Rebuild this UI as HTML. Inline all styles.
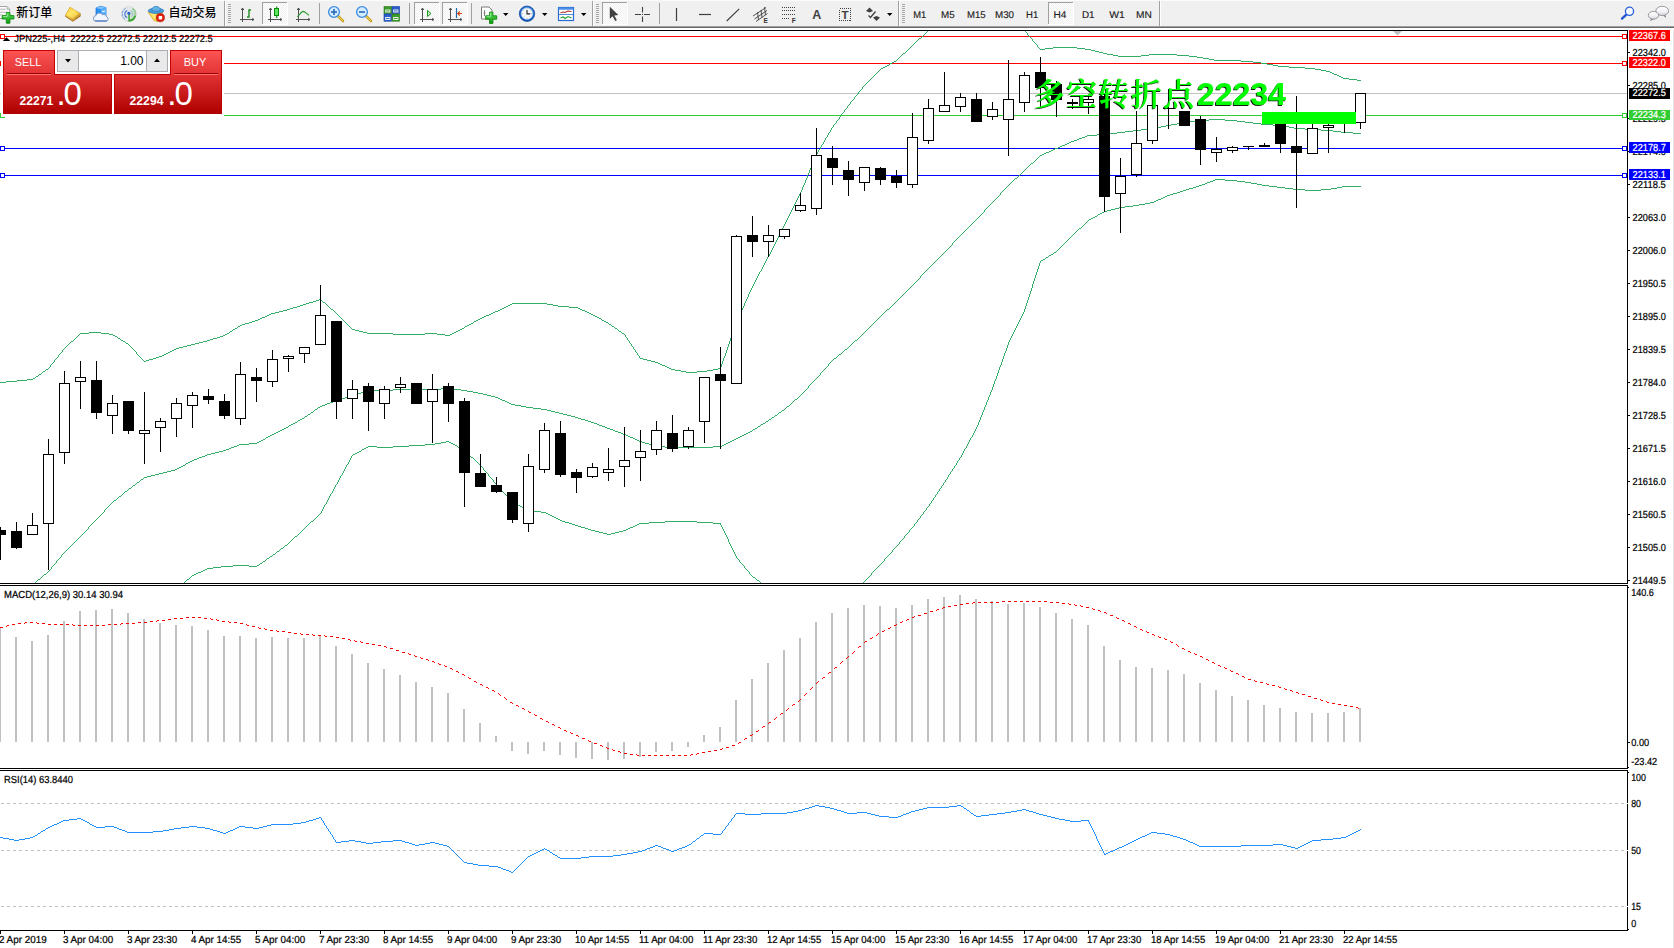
<!DOCTYPE html>
<html lang="zh"><head><meta charset="utf-8"><title>JPN225-,H4</title>
<style>
html,body{margin:0;padding:0;background:#fff;overflow:hidden}
body{width:1674px;height:948px;position:relative;font-family:"Liberation Sans", "Noto Sans CJK SC", sans-serif}
svg{position:absolute;left:0;top:0;display:block}
text{font-family:"Liberation Sans", "Noto Sans CJK SC", sans-serif;font-size:9px;fill:#000}
.ax{text-rendering:geometricPrecision;font-size:10.2px;stroke:#000;stroke-width:0.22px}
.lbl{text-rendering:geometricPrecision;font-size:10.2px;fill:#fff;stroke:#fff;stroke-width:0.22px}
.cn{font-family:"Liberation Sans","Noto Sans CJK SC",sans-serif;font-size:12px;font-weight:500}
.tf{text-rendering:geometricPrecision;font-size:9.8px;fill:#222;stroke:#222;stroke-width:0.15px}
</style></head><body>
<svg width="1674" height="948" viewBox="0 0 1674 948">
<rect x="0" y="0" width="1674" height="948" fill="#fff" />
<g shape-rendering="crispEdges">
<rect x="0" y="30" width="1628" height="1" fill="#000" />
<rect x="1627" y="30" width="1" height="901" fill="#000" />
<rect x="0" y="583" width="1628" height="1" fill="#000" />
<rect x="0" y="584" width="1674" height="1" fill="#fff" />
<rect x="0" y="585" width="1628" height="1" fill="#000" />
<rect x="1628" y="587" width="1" height="1" fill="#000" />
<rect x="0" y="768" width="1628" height="1" fill="#000" />
<rect x="0" y="769" width="1674" height="1" fill="#fff" />
<rect x="0" y="770" width="1628" height="1" fill="#000" />
<rect x="1628" y="772" width="1" height="1" fill="#000" />
<rect x="1628" y="767" width="1" height="1" fill="#000" />
<rect x="1628" y="929" width="1" height="1" fill="#000" />
<rect x="0" y="930" width="1628" height="1" fill="#000" />
<rect x="1673" y="28" width="1" height="948" fill="#e3e3e3" />
<rect x="0" y="36" width="1627" height="1" fill="#ff0000" />
<rect x="0" y="63" width="1627" height="1" fill="#ff0000" />
<rect x="0" y="93" width="1627" height="1" fill="#c0c0c0" />
<rect x="0" y="115" width="1627" height="1" fill="#32cd32" />
<rect x="0" y="148" width="1627" height="1" fill="#0000ff" />
<rect x="0" y="175" width="1627" height="1" fill="#0000ff" />
<rect x="1622.5" y="34.5" width="4" height="4" fill="#fff" stroke="#ff0000" stroke-width="1"/>
<rect x="0.5" y="34.5" width="4" height="4" fill="#fff" stroke="#ff0000" stroke-width="1"/>
<rect x="1622.5" y="61.5" width="4" height="4" fill="#fff" stroke="#ff0000" stroke-width="1"/>
<rect x="0.5" y="61.5" width="4" height="4" fill="#fff" stroke="#ff0000" stroke-width="1"/>
<rect x="1622.5" y="113.5" width="4" height="4" fill="#fff" stroke="#32cd32" stroke-width="1"/>
<rect x="0.5" y="113.5" width="4" height="4" fill="#fff" stroke="#32cd32" stroke-width="1"/>
<rect x="1622.5" y="146.5" width="4" height="4" fill="#fff" stroke="#0000ff" stroke-width="1"/>
<rect x="0.5" y="146.5" width="4" height="4" fill="#fff" stroke="#0000ff" stroke-width="1"/>
<rect x="1622.5" y="173.5" width="4" height="4" fill="#fff" stroke="#0000ff" stroke-width="1"/>
<rect x="0.5" y="173.5" width="4" height="4" fill="#fff" stroke="#0000ff" stroke-width="1"/>
</g>
<path d="M919 38.5h2M1053 47.5h24M1045 48.5h8M1077 48.5h8M1040 49.5h5M1085 49.5h6M1091 50.5h4M1095 51.5h4M1099 52.5h4M903 53.5h2M1103 53.5h4M1107 54.5h6M1149 54.5h28M1113 55.5h5M1141 55.5h8M1177 55.5h12M1118 56.5h23M1189 56.5h8M1197 57.5h6M1203 58.5h6M1209 59.5h5M1214 60.5h27M894 61.5h2M1241 61.5h12M892 62.5h2M1253 62.5h8M890 63.5h2M1261 63.5h6M1267 64.5h6M887 65.5h2M1273 65.5h5M885 66.5h2M1278 66.5h11M883 67.5h2M1289 67.5h16M881 68.5h2M1305 68.5h10M1315 69.5h6M1321 70.5h5M1326 71.5h4M1330 72.5h2M1332 73.5h2M1334 74.5h3M1337 75.5h2M1339 76.5h2M1341 77.5h2M1343 78.5h6M1349 79.5h8M1357 80.5h4M1209 119.5h16M1197 120.5h12M1225 120.5h12M1189 121.5h8M1237 121.5h8M1182 122.5h7M1245 122.5h8M1177 123.5h5M1253 123.5h8M1171 124.5h6M1261 124.5h12M1166 125.5h5M1273 125.5h10M1161 126.5h5M1283 126.5h6M1155 127.5h6M1289 127.5h5M1149 128.5h6M1294 128.5h11M1141 129.5h8M1305 129.5h16M1133 130.5h8M1321 130.5h12M1125 131.5h8M1333 131.5h8M1117 132.5h8M1341 132.5h12M1109 133.5h8M1353 133.5h8M1097 134.5h12M1087 135.5h10M1085 136.5h2M1082 137.5h3M1079 138.5h3M1077 139.5h2M1074 140.5h3M1071 141.5h3M1069 142.5h2M1067 143.5h2M1065 144.5h2M1062 145.5h3M1060 146.5h2M1058 147.5h2M1055 148.5h3M1053 149.5h2M1051 150.5h2M1049 151.5h2M1046 152.5h3M1044 153.5h2M1042 154.5h2M1040 155.5h2M1031 163.5h2M1015 178.5h2M1215 179.5h10M1213 180.5h2M1225 180.5h12M1210 181.5h3M1237 181.5h8M1207 182.5h3M1245 182.5h6M1205 183.5h2M1251 183.5h6M1202 184.5h3M1257 184.5h5M1199 185.5h3M1262 185.5h7M1196 186.5h3M1269 186.5h8M1342 186.5h19M1193 187.5h3M1277 187.5h8M1337 187.5h5M1189 188.5h4M1285 188.5h8M1331 188.5h6M1186 189.5h3M1293 189.5h12M1321 189.5h10M1183 190.5h3M1305 190.5h16M1180 191.5h3M1177 192.5h3M1173 193.5h4M1170 194.5h3M1167 195.5h3M1165 196.5h2M1163 197.5h2M1161 198.5h2M1158 199.5h3M1156 200.5h2M1154 201.5h2M1150 202.5h4M1145 203.5h5M1139 204.5h6M1133 205.5h6M1125 206.5h8M1119 207.5h6M1115 208.5h4M1111 209.5h4M1107 210.5h4M1104 211.5h3M1102 212.5h2M1100 213.5h2M1098 214.5h2M1095 216.5h2M1093 217.5h2M1091 218.5h2M1089 219.5h2M1079 228.5h2M1054 252.5h2M1051 254.5h2M1049 255.5h2M1046 257.5h2M1043 259.5h2M1041 260.5h2M319 299.5h2M316 300.5h3M313 301.5h3M309 302.5h4M323 302.5h2M306 303.5h3M512 303.5h35M303 304.5h3M510 304.5h2M547 304.5h6M300 305.5h3M508 305.5h2M553 305.5h5M297 306.5h3M506 306.5h2M558 306.5h11M293 307.5h4M504 307.5h2M569 307.5h9M290 308.5h3M502 308.5h2M578 308.5h2M287 309.5h3M331 309.5h2M500 309.5h2M580 309.5h2M887 309.5h2M283 310.5h4M498 310.5h2M582 310.5h3M279 311.5h4M495 311.5h3M585 311.5h2M275 312.5h4M493 312.5h2M587 312.5h2M271 313.5h4M491 313.5h2M589 313.5h2M269 314.5h2M489 314.5h2M591 314.5h2M267 315.5h2M486 315.5h3M593 315.5h2M265 316.5h2M484 316.5h2M595 316.5h2M262 317.5h3M482 317.5h2M597 317.5h2M260 318.5h2M480 318.5h2M599 318.5h2M258 319.5h2M478 319.5h2M255 320.5h3M476 320.5h2M602 320.5h2M252 321.5h3M474 321.5h2M604 321.5h2M249 322.5h3M606 322.5h2M245 323.5h4M471 323.5h2M242 324.5h3M469 324.5h2M609 324.5h2M240 325.5h2M467 325.5h2M238 326.5h2M465 326.5h2M612 326.5h2M235 328.5h2M462 328.5h2M615 328.5h2M233 329.5h2M352 329.5h3M460 329.5h2M355 330.5h4M458 330.5h2M230 331.5h2M359 331.5h4M456 331.5h2M619 331.5h2M89 332.5h12M363 332.5h4M454 332.5h2M80 333.5h9M101 333.5h8M227 333.5h2M367 333.5h26M425 333.5h12M452 333.5h2M622 333.5h2M109 334.5h4M225 334.5h2M393 334.5h32M437 334.5h8M450 334.5h2M113 335.5h2M223 335.5h2M445 335.5h5M115 336.5h2M220 336.5h3M217 337.5h3M118 338.5h2M213 338.5h4M210 339.5h3M121 340.5h2M207 340.5h3M855 340.5h2M71 341.5h2M123 341.5h2M203 341.5h4M199 342.5h4M126 343.5h2M195 343.5h4M191 344.5h4M187 345.5h4M183 346.5h4M179 347.5h4M176 348.5h3M174 349.5h2M845 349.5h2M172 350.5h2M170 351.5h2M168 352.5h2M166 353.5h2M164 354.5h2M839 354.5h2M162 355.5h2M159 356.5h3M156 357.5h3M153 358.5h3M640 358.5h3M834 358.5h2M149 359.5h4M643 359.5h4M146 360.5h3M647 360.5h4M144 361.5h2M651 361.5h4M655 362.5h3M658 363.5h2M660 364.5h2M662 365.5h3M665 366.5h2M667 367.5h2M669 368.5h2M718 368.5h3M46 369.5h2M671 369.5h4M713 369.5h5M675 370.5h6M707 370.5h6M43 371.5h2M681 371.5h5M697 371.5h10M686 372.5h11M39 374.5h2M36 376.5h2M33 378.5h2M27 379.5h6M17 380.5h10M6 381.5h11M0 382.5h6M441 388.5h12M393 389.5h48M453 389.5h8M367 390.5h26M461 390.5h6M364 391.5h3M467 391.5h6M361 392.5h3M473 392.5h5M357 393.5h4M478 393.5h5M354 394.5h3M483 394.5h4M351 395.5h3M487 395.5h4M348 396.5h3M491 396.5h4M345 397.5h3M495 397.5h3M341 398.5h4M498 398.5h2M338 399.5h3M500 399.5h2M795 399.5h2M335 400.5h3M502 400.5h3M333 401.5h2M505 401.5h2M330 402.5h3M507 402.5h2M327 403.5h3M509 403.5h2M325 404.5h2M511 404.5h4M322 405.5h3M515 405.5h6M320 406.5h2M521 406.5h5M787 406.5h2M318 407.5h2M526 407.5h7M533 408.5h8M315 409.5h2M541 409.5h6M547 410.5h4M782 410.5h2M551 411.5h4M311 412.5h2M555 412.5h4M779 412.5h2M559 413.5h4M308 414.5h2M563 414.5h4M567 415.5h4M775 415.5h2M305 416.5h2M571 416.5h4M575 417.5h3M772 417.5h2M302 418.5h2M578 418.5h3M300 419.5h2M581 419.5h4M769 419.5h2M298 420.5h2M585 420.5h3M588 421.5h3M766 421.5h2M295 422.5h2M591 422.5h3M293 423.5h2M594 423.5h3M763 423.5h2M291 424.5h2M597 424.5h2M761 424.5h2M289 425.5h2M599 425.5h3M602 426.5h3M758 426.5h2M286 427.5h2M605 427.5h2M284 428.5h2M607 428.5h3M755 428.5h2M282 429.5h2M610 429.5h3M753 429.5h2M280 430.5h2M613 430.5h2M278 431.5h2M615 431.5h3M750 431.5h2M276 432.5h2M618 432.5h3M748 432.5h2M274 433.5h2M621 433.5h2M746 433.5h2M272 434.5h2M623 434.5h3M744 434.5h2M270 435.5h2M626 435.5h2M742 435.5h2M268 436.5h2M628 436.5h2M740 436.5h2M266 437.5h2M630 437.5h3M738 437.5h2M633 438.5h2M736 438.5h2M263 439.5h2M635 439.5h2M734 439.5h2M261 440.5h2M637 440.5h2M732 440.5h2M259 441.5h2M446 441.5h3M639 441.5h3M730 441.5h2M257 442.5h2M441 442.5h5M449 442.5h2M642 442.5h3M728 442.5h2M249 443.5h8M435 443.5h6M451 443.5h2M645 443.5h4M726 443.5h2M239 444.5h10M425 444.5h10M453 444.5h2M649 444.5h3M724 444.5h2M237 445.5h2M409 445.5h16M455 445.5h2M652 445.5h3M722 445.5h2M234 446.5h3M368 446.5h9M393 446.5h16M655 446.5h10M713 446.5h9M231 447.5h3M366 447.5h2M377 447.5h16M458 447.5h2M665 447.5h48M229 448.5h2M364 448.5h2M460 448.5h2M226 449.5h3M362 449.5h2M462 449.5h2M223 450.5h3M219 451.5h4M359 451.5h2M215 452.5h4M357 452.5h2M211 453.5h4M355 453.5h2M207 454.5h4M353 454.5h2M205 455.5h2M202 456.5h3M199 457.5h3M471 457.5h2M197 458.5h2M194 459.5h3M192 460.5h2M190 461.5h2M188 462.5h2M186 463.5h2M183 465.5h2M181 466.5h2M179 467.5h2M177 468.5h2M175 469.5h2M171 470.5h4M167 471.5h4M163 472.5h4M159 473.5h4M155 474.5h4M151 475.5h4M147 476.5h4M144 477.5h3M141 479.5h2M137 482.5h2M133 485.5h2M129 488.5h2M125 491.5h2M119 496.5h2M114 500.5h2M512 502.5h2M514 503.5h2M516 504.5h2M518 505.5h2M520 506.5h2M522 507.5h2M524 508.5h2M526 509.5h2M528 510.5h5M533 511.5h8M541 512.5h5M546 513.5h2M548 514.5h2M550 515.5h2M552 516.5h2M554 517.5h2M556 518.5h2M558 519.5h2M560 520.5h2M311 521.5h2M562 521.5h3M665 521.5h32M565 522.5h4M649 522.5h16M697 522.5h16M569 523.5h3M639 523.5h10M713 523.5h8M572 524.5h3M637 524.5h2M575 525.5h3M635 525.5h2M578 526.5h3M633 526.5h2M581 527.5h4M630 527.5h3M585 528.5h3M628 528.5h2M588 529.5h3M626 529.5h2M591 530.5h4M623 530.5h3M595 531.5h4M619 531.5h4M599 532.5h4M615 532.5h4M603 533.5h4M611 533.5h4M607 534.5h4M295 536.5h2M285 545.5h2M281 548.5h2M277 551.5h2M273 554.5h2M270 556.5h2M267 558.5h2M263 561.5h2M260 563.5h2M233 565.5h16M257 565.5h2M221 566.5h12M249 566.5h8M213 567.5h8M207 568.5h6M205 569.5h2M203 570.5h2M201 571.5h2M198 572.5h3M196 573.5h2M44 574.5h2M194 574.5h2M192 575.5h2M753 577.5h2M38 579.5h2M187 579.5h2M757 580.5h2M35.5 377v1M35.5 582v1M36.5 581v1M37.5 580v1M38.5 375v1M40.5 578v1M41.5 373v1M41.5 577v1M42.5 372v1M42.5 576v1M43.5 575v1M45.5 370v1M46.5 573v1M47.5 572v1M48.5 368v1M48.5 571v1M49.5 367v1M49.5 570v1M50.5 365v2M50.5 569v1M51.5 364v1M51.5 567v2M52.5 363v1M52.5 566v1M53.5 362v1M53.5 565v1M54.5 360v2M54.5 564v1M55.5 359v1M55.5 563v1M56.5 358v1M56.5 561v2M57.5 357v1M57.5 560v1M58.5 355v2M58.5 559v1M59.5 354v1M59.5 558v1M60.5 353v1M60.5 557v1M61.5 352v1M61.5 555v2M62.5 350v2M62.5 554v1M63.5 349v1M63.5 553v1M64.5 348v1M64.5 552v1M65.5 347v1M65.5 551v1M66.5 346v1M66.5 550v1M67.5 345v1M67.5 549v1M68.5 344v1M68.5 548v1M69.5 343v1M69.5 547v1M70.5 342v1M70.5 546v1M71.5 545v1M72.5 544v1M73.5 340v1M73.5 543v1M74.5 339v1M74.5 542v1M75.5 338v1M75.5 541v1M76.5 337v1M76.5 540v1M77.5 336v1M77.5 539v1M78.5 335v1M78.5 538v1M79.5 334v1M79.5 537v1M80.5 536v1M81.5 535v1M82.5 534v1M83.5 533v1M84.5 532v1M85.5 531v1M86.5 530v1M87.5 529v1M88.5 527v2M89.5 526v1M90.5 525v1M91.5 524v1M92.5 523v1M93.5 522v1M94.5 521v1M95.5 520v1M96.5 519v1M97.5 518v1M98.5 517v1M99.5 516v1M100.5 515v1M101.5 514v1M102.5 513v1M103.5 512v1M104.5 510v2M105.5 509v1M106.5 508v1M107.5 507v1M108.5 506v1M109.5 505v1M110.5 504v1M111.5 503v1M112.5 502v1M113.5 501v1M116.5 499v1M117.5 337v1M117.5 498v1M118.5 497v1M120.5 339v1M121.5 495v1M122.5 494v1M123.5 493v1M124.5 492v1M125.5 342v1M127.5 490v1M128.5 344v1M128.5 489v1M129.5 345v1M130.5 346v1M131.5 347v1M131.5 487v1M132.5 348v1M132.5 486v1M133.5 349v1M134.5 350v1M135.5 351v1M135.5 484v1M136.5 352v2M136.5 483v1M137.5 354v1M138.5 355v1M139.5 356v1M139.5 481v1M140.5 357v1M140.5 480v1M141.5 358v1M142.5 359v1M143.5 360v1M143.5 478v1M184.5 582v1M185.5 464v1M185.5 581v1M186.5 580v1M189.5 578v1M190.5 577v1M191.5 576v1M229.5 332v1M232.5 330v1M237.5 327v1M259.5 564v1M262.5 562v1M265.5 438v1M265.5 560v1M266.5 559v1M269.5 557v1M272.5 555v1M275.5 553v1M276.5 552v1M279.5 550v1M280.5 549v1M283.5 547v1M284.5 546v1M287.5 544v1M288.5 426v1M288.5 543v1M289.5 542v1M290.5 541v1M291.5 540v1M292.5 539v1M293.5 538v1M294.5 537v1M297.5 421v1M297.5 535v1M298.5 534v1M299.5 533v1M300.5 532v1M301.5 531v1M302.5 530v1M303.5 529v1M304.5 417v1M304.5 528v1M305.5 527v1M306.5 526v1M307.5 415v1M307.5 525v1M308.5 524v1M309.5 523v1M310.5 413v1M310.5 522v1M313.5 411v1M313.5 520v1M314.5 410v1M314.5 519v1M315.5 518v1M316.5 517v1M317.5 408v1M317.5 516v1M318.5 515v1M319.5 514v1M320.5 513v1M321.5 300v1M321.5 511v2M322.5 301v1M322.5 509v2M323.5 507v2M324.5 505v2M325.5 303v1M325.5 504v1M326.5 304v1M326.5 502v2M327.5 305v1M327.5 500v2M328.5 306v1M328.5 498v2M329.5 307v1M329.5 496v2M330.5 308v1M330.5 494v2M331.5 493v1M332.5 491v2M333.5 310v1M333.5 489v2M334.5 311v1M334.5 487v2M335.5 312v1M335.5 485v2M336.5 313v1M336.5 484v1M337.5 314v1M337.5 482v2M338.5 315v1M338.5 480v2M339.5 316v1M339.5 478v2M340.5 317v1M340.5 476v2M341.5 318v1M341.5 475v1M342.5 319v1M342.5 473v2M343.5 320v1M343.5 471v2M344.5 321v1M344.5 469v2M345.5 322v1M345.5 467v2M346.5 323v1M346.5 465v2M347.5 324v1M347.5 464v1M348.5 325v1M348.5 462v2M349.5 326v1M349.5 460v2M350.5 327v1M350.5 458v2M351.5 328v1M351.5 456v2M352.5 455v1M361.5 450v1M457.5 446v1M464.5 327v1M464.5 450v1M465.5 451v1M466.5 452v1M467.5 453v1M468.5 454v1M469.5 455v1M470.5 456v1M473.5 322v1M473.5 458v1M474.5 459v1M475.5 460v1M476.5 461v1M477.5 462v1M478.5 463v1M479.5 464v1M480.5 465v1M481.5 466v1M482.5 467v1M483.5 468v2M484.5 470v1M485.5 471v1M486.5 472v1M487.5 473v1M488.5 474v2M489.5 476v1M490.5 477v1M491.5 478v1M492.5 479v1M493.5 480v2M494.5 482v1M495.5 483v1M496.5 484v1M497.5 485v1M498.5 486v1M499.5 487v1M500.5 488v2M501.5 490v1M502.5 491v1M503.5 492v1M504.5 493v1M505.5 494v1M506.5 495v1M507.5 496v1M508.5 497v2M509.5 499v1M510.5 500v1M511.5 501v1M601.5 319v1M608.5 323v1M611.5 325v1M614.5 327v1M617.5 329v1M618.5 330v1M621.5 332v1M624.5 334v1M625.5 335v2M626.5 337v1M627.5 338v2M628.5 340v1M629.5 341v2M630.5 343v1M631.5 344v2M632.5 346v1M633.5 347v2M634.5 349v1M635.5 350v2M636.5 352v1M637.5 353v2M638.5 355v1M639.5 356v2M720.5 367v1M720.5 524v1M721.5 364v3M721.5 525v2M722.5 361v3M722.5 527v2M723.5 358v3M723.5 529v2M724.5 356v2M724.5 531v2M725.5 353v3M725.5 533v2M726.5 350v3M726.5 535v2M727.5 347v3M727.5 537v2M728.5 344v3M728.5 539v3M729.5 341v3M729.5 542v2M730.5 338v3M730.5 544v2M731.5 335v3M731.5 546v2M732.5 333v2M732.5 548v2M733.5 330v3M733.5 550v2M734.5 327v3M734.5 552v2M735.5 324v3M735.5 554v2M736.5 321v3M736.5 556v2M737.5 319v2M737.5 558v1M738.5 317v2M738.5 559v1M739.5 315v2M739.5 560v2M740.5 312v3M740.5 562v1M741.5 310v2M741.5 563v1M742.5 308v2M742.5 564v1M743.5 306v2M743.5 565v1M744.5 303v3M744.5 566v2M745.5 301v2M745.5 568v1M746.5 299v2M746.5 569v1M747.5 297v2M747.5 570v1M748.5 294v3M748.5 571v1M749.5 292v2M749.5 572v2M750.5 290v2M750.5 574v1M751.5 288v2M751.5 575v1M752.5 286v2M752.5 430v1M752.5 576v1M753.5 284v2M754.5 282v2M755.5 280v2M755.5 578v1M756.5 278v2M756.5 579v1M757.5 276v2M757.5 427v1M758.5 274v2M759.5 272v2M759.5 581v1M760.5 271v1M760.5 425v1M760.5 582v1M761.5 269v2M762.5 267v2M763.5 265v2M764.5 263v2M765.5 261v2M765.5 422v1M766.5 259v2M767.5 257v2M768.5 256v1M768.5 420v1M769.5 254v2M770.5 252v2M771.5 250v2M771.5 418v1M772.5 248v2M773.5 246v2M774.5 244v2M774.5 416v1M775.5 242v2M776.5 240v2M777.5 238v2M777.5 414v1M778.5 236v2M778.5 413v1M779.5 234v2M780.5 232v2M781.5 230v2M781.5 411v1M782.5 228v2M783.5 226v2M784.5 224v2M784.5 409v1M785.5 222v2M785.5 408v1M786.5 220v2M786.5 407v1M787.5 218v2M788.5 216v2M789.5 214v2M789.5 405v1M790.5 212v2M790.5 404v1M791.5 210v2M791.5 403v1M792.5 208v2M792.5 402v1M793.5 206v2M793.5 401v1M794.5 204v2M794.5 400v1M795.5 202v2M796.5 200v2M797.5 198v2M797.5 398v1M798.5 196v2M798.5 397v1M799.5 194v2M799.5 396v1M800.5 192v2M800.5 395v1M801.5 190v2M801.5 394v1M802.5 187v3M802.5 393v1M803.5 185v2M803.5 392v1M804.5 183v2M804.5 391v1M805.5 180v3M805.5 390v1M806.5 178v2M806.5 389v1M807.5 175v3M807.5 388v1M808.5 173v2M808.5 386v2M809.5 170v3M809.5 385v1M810.5 168v2M810.5 384v1M811.5 165v3M811.5 383v1M812.5 163v2M812.5 382v1M813.5 161v2M813.5 381v1M814.5 158v3M814.5 380v1M815.5 156v2M815.5 379v1M816.5 154v2M816.5 378v1M817.5 152v2M817.5 377v1M818.5 150v2M818.5 376v1M819.5 149v1M819.5 375v1M820.5 147v2M820.5 373v2M821.5 145v2M821.5 372v1M822.5 144v1M822.5 371v1M823.5 142v2M823.5 370v1M824.5 140v2M824.5 369v1M825.5 138v2M825.5 368v1M826.5 137v1M826.5 367v1M827.5 135v2M827.5 366v1M828.5 133v2M828.5 364v2M829.5 132v1M829.5 363v1M830.5 130v2M830.5 362v1M831.5 128v2M831.5 361v1M832.5 127v1M832.5 360v1M833.5 125v2M833.5 359v1M834.5 124v1M835.5 123v1M836.5 121v2M836.5 357v1M837.5 120v1M837.5 356v1M838.5 119v1M838.5 355v1M839.5 117v2M840.5 116v1M841.5 114v2M841.5 353v1M842.5 113v1M842.5 352v1M843.5 112v1M843.5 351v1M844.5 110v2M844.5 350v1M845.5 109v1M846.5 108v1M847.5 106v2M847.5 348v1M848.5 105v1M848.5 347v1M849.5 104v1M849.5 346v1M850.5 102v2M850.5 345v1M851.5 101v1M851.5 344v1M852.5 100v1M852.5 343v1M853.5 99v1M853.5 342v1M854.5 97v2M854.5 341v1M855.5 96v1M856.5 95v1M857.5 94v1M857.5 339v1M858.5 92v2M858.5 338v1M859.5 91v1M859.5 337v1M860.5 90v1M860.5 336v1M861.5 89v1M861.5 335v1M862.5 87v2M862.5 334v1M863.5 86v1M863.5 333v1M863.5 582v1M864.5 85v1M864.5 332v1M864.5 581v1M865.5 84v1M865.5 331v1M865.5 580v1M866.5 83v1M866.5 330v1M866.5 579v1M867.5 82v1M867.5 329v1M867.5 578v1M868.5 81v1M868.5 328v1M868.5 577v1M869.5 80v1M869.5 327v1M869.5 576v1M870.5 79v1M870.5 326v1M870.5 575v1M871.5 78v1M871.5 325v1M871.5 573v2M872.5 77v1M872.5 324v1M872.5 572v1M873.5 76v1M873.5 323v1M873.5 571v1M874.5 75v1M874.5 322v1M874.5 570v1M875.5 74v1M875.5 321v1M875.5 569v1M876.5 73v1M876.5 320v1M876.5 568v1M877.5 72v1M877.5 319v1M877.5 567v1M878.5 71v1M878.5 318v1M878.5 566v1M879.5 70v1M879.5 317v1M879.5 565v1M880.5 69v1M880.5 316v1M880.5 564v1M881.5 315v1M881.5 563v1M882.5 314v1M882.5 562v1M883.5 313v1M883.5 561v1M884.5 312v1M884.5 559v2M885.5 311v1M885.5 558v1M886.5 310v1M886.5 557v1M887.5 556v1M888.5 555v1M889.5 64v1M889.5 308v1M889.5 554v1M890.5 307v1M890.5 553v1M891.5 306v1M891.5 552v1M892.5 305v1M892.5 550v2M893.5 304v1M893.5 549v1M894.5 303v1M894.5 548v1M895.5 302v1M895.5 547v1M896.5 60v1M896.5 301v1M896.5 546v1M897.5 59v1M897.5 300v1M897.5 545v1M898.5 58v1M898.5 299v1M898.5 544v1M899.5 57v1M899.5 298v1M899.5 542v2M900.5 56v1M900.5 297v1M900.5 541v1M901.5 55v1M901.5 296v1M901.5 540v1M902.5 54v1M902.5 295v1M902.5 539v1M903.5 294v1M903.5 538v1M904.5 293v1M904.5 536v2M905.5 52v1M905.5 292v1M905.5 535v1M906.5 51v1M906.5 291v1M906.5 534v1M907.5 50v1M907.5 290v1M907.5 533v1M908.5 49v1M908.5 289v1M908.5 532v1M909.5 48v1M909.5 288v1M909.5 530v2M910.5 47v1M910.5 287v1M910.5 529v1M911.5 46v1M911.5 286v1M911.5 528v1M912.5 45v1M912.5 285v1M912.5 527v1M913.5 44v1M913.5 284v1M913.5 526v1M914.5 43v1M914.5 283v1M914.5 524v2M915.5 42v1M915.5 282v1M915.5 523v1M916.5 41v1M916.5 281v1M916.5 522v1M917.5 40v1M917.5 280v1M917.5 520v2M918.5 39v1M918.5 279v1M918.5 519v1M919.5 278v1M919.5 518v1M920.5 276v2M920.5 516v2M921.5 37v1M921.5 275v1M921.5 515v1M922.5 36v1M922.5 274v1M922.5 514v1M923.5 35v1M923.5 273v1M923.5 512v2M924.5 34v1M924.5 272v1M924.5 511v1M925.5 33v1M925.5 271v1M925.5 510v1M926.5 32v1M926.5 270v1M926.5 508v2M927.5 31v1M927.5 269v1M927.5 507v1M928.5 268v1M928.5 506v1M929.5 267v1M929.5 504v2M930.5 266v1M930.5 503v1M931.5 265v1M931.5 501v2M932.5 264v1M932.5 500v1M933.5 263v1M933.5 498v2M934.5 262v1M934.5 497v1M935.5 261v1M935.5 495v2M936.5 260v1M936.5 494v1M937.5 259v1M937.5 492v2M938.5 258v1M938.5 491v1M939.5 257v1M939.5 489v2M940.5 256v1M940.5 488v1M941.5 255v1M941.5 486v2M942.5 254v1M942.5 485v1M943.5 253v1M943.5 483v2M944.5 252v1M944.5 482v1M945.5 251v1M945.5 480v2M946.5 250v1M946.5 479v1M947.5 249v1M947.5 477v2M948.5 248v1M948.5 475v2M949.5 247v1M949.5 474v1M950.5 246v1M950.5 472v2M951.5 245v1M951.5 471v1M952.5 243v2M952.5 469v2M953.5 242v1M953.5 468v1M954.5 241v1M954.5 466v2M955.5 240v1M955.5 465v1M956.5 239v1M956.5 463v2M957.5 238v1M957.5 461v2M958.5 237v1M958.5 460v1M959.5 236v1M959.5 458v2M960.5 235v1M960.5 457v1M961.5 234v1M961.5 455v2M962.5 233v1M962.5 453v2M963.5 232v1M963.5 451v2M964.5 231v1M964.5 449v2M965.5 230v1M965.5 448v1M966.5 229v1M966.5 446v2M967.5 228v1M967.5 444v2M968.5 227v1M968.5 442v2M969.5 226v1M969.5 440v2M970.5 225v1M970.5 438v2M971.5 224v1M971.5 437v1M972.5 223v1M972.5 435v2M973.5 222v1M973.5 433v2M974.5 221v1M974.5 431v2M975.5 220v1M975.5 429v2M976.5 219v1M976.5 427v2M977.5 218v1M977.5 425v2M978.5 217v1M978.5 422v3M979.5 216v1M979.5 420v2M980.5 215v1M980.5 417v3M981.5 214v1M981.5 415v2M982.5 213v1M982.5 412v3M983.5 212v1M983.5 410v2M984.5 210v2M984.5 407v3M985.5 209v1M985.5 405v2M986.5 208v1M986.5 402v3M987.5 207v1M987.5 400v2M988.5 206v1M988.5 397v3M989.5 205v1M989.5 395v2M990.5 204v1M990.5 392v3M991.5 203v1M991.5 390v2M992.5 202v1M992.5 387v3M993.5 201v1M993.5 384v3M994.5 200v1M994.5 381v3M995.5 199v1M995.5 379v2M996.5 198v1M996.5 376v3M997.5 197v1M997.5 373v3M998.5 196v1M998.5 370v3M999.5 195v1M999.5 367v3M1000.5 193v2M1000.5 365v2M1001.5 192v1M1001.5 362v3M1002.5 191v1M1002.5 359v3M1003.5 190v1M1003.5 356v3M1004.5 189v1M1004.5 353v3M1005.5 188v1M1005.5 351v2M1006.5 187v1M1006.5 348v3M1007.5 186v1M1007.5 345v3M1008.5 185v1M1008.5 342v3M1009.5 184v1M1009.5 340v2M1010.5 183v1M1010.5 338v2M1011.5 182v1M1011.5 336v2M1012.5 181v1M1012.5 334v2M1013.5 180v1M1013.5 332v2M1014.5 179v1M1014.5 330v2M1015.5 328v2M1016.5 326v2M1017.5 177v1M1017.5 324v2M1018.5 176v1M1018.5 322v2M1019.5 175v1M1019.5 320v2M1020.5 174v1M1020.5 318v2M1021.5 173v1M1021.5 316v2M1022.5 172v1M1022.5 314v2M1023.5 171v1M1023.5 312v2M1024.5 170v1M1024.5 309v3M1025.5 31v1M1025.5 169v1M1025.5 306v3M1026.5 32v1M1026.5 168v1M1026.5 303v3M1027.5 33v2M1027.5 167v1M1027.5 300v3M1028.5 35v1M1028.5 166v1M1028.5 297v3M1029.5 36v1M1029.5 165v1M1029.5 294v3M1030.5 37v1M1030.5 164v1M1030.5 291v3M1031.5 38v1M1031.5 288v3M1032.5 39v2M1032.5 284v4M1033.5 41v1M1033.5 162v1M1033.5 281v3M1034.5 42v1M1034.5 161v1M1034.5 278v3M1035.5 43v1M1035.5 160v1M1035.5 275v3M1036.5 44v1M1036.5 159v1M1036.5 272v3M1037.5 45v2M1037.5 158v1M1037.5 269v3M1038.5 47v1M1038.5 157v1M1038.5 266v3M1039.5 48v1M1039.5 156v1M1039.5 263v3M1040.5 261v2M1045.5 258v1M1048.5 256v1M1053.5 253v1M1056.5 251v1M1057.5 250v1M1058.5 249v1M1059.5 248v1M1060.5 247v1M1061.5 246v1M1062.5 245v1M1063.5 244v1M1064.5 243v1M1065.5 242v1M1066.5 241v1M1067.5 240v1M1068.5 239v1M1069.5 238v1M1070.5 237v1M1071.5 236v1M1072.5 235v1M1073.5 234v1M1074.5 233v1M1075.5 232v1M1076.5 231v1M1077.5 230v1M1078.5 229v1M1081.5 227v1M1082.5 226v1M1083.5 225v1M1084.5 224v1M1085.5 223v1M1086.5 222v1M1087.5 221v1M1088.5 220v1M1097.5 215v1" fill="none" stroke="#32ae66" stroke-width="1" shape-rendering="crispEdges"/>
<g shape-rendering="crispEdges">
<rect x="0" y="527" width="1" height="33" fill="#000" />
<rect x="-5" y="530" width="11" height="5" fill="#000" />
<rect x="16" y="522" width="1" height="27" fill="#000" />
<rect x="11" y="531" width="11" height="17" fill="#000" />
<rect x="32" y="513" width="1" height="22" fill="#000" />
<rect x="27" y="525" width="11" height="10" fill="#000" />
<rect x="28" y="526" width="9" height="8" fill="#fff" />
<rect x="48" y="439" width="1" height="131" fill="#000" />
<rect x="43" y="454" width="11" height="70" fill="#000" />
<rect x="44" y="455" width="9" height="68" fill="#fff" />
<rect x="64" y="371" width="1" height="93" fill="#000" />
<rect x="59" y="383" width="11" height="70" fill="#000" />
<rect x="60" y="384" width="9" height="68" fill="#fff" />
<rect x="80" y="361" width="1" height="48" fill="#000" />
<rect x="75" y="377" width="11" height="5" fill="#000" />
<rect x="76" y="378" width="9" height="3" fill="#fff" />
<rect x="96" y="361" width="1" height="58" fill="#000" />
<rect x="91" y="380" width="11" height="33" fill="#000" />
<rect x="112" y="395" width="1" height="39" fill="#000" />
<rect x="107" y="403" width="11" height="13" fill="#000" />
<rect x="108" y="404" width="9" height="11" fill="#fff" />
<rect x="128" y="401" width="1" height="33" fill="#000" />
<rect x="123" y="401" width="11" height="30" fill="#000" />
<rect x="144" y="392" width="1" height="72" fill="#000" />
<rect x="139" y="430" width="11" height="4" fill="#000" />
<rect x="140" y="431" width="9" height="2" fill="#fff" />
<rect x="160" y="418" width="1" height="34" fill="#000" />
<rect x="155" y="421" width="11" height="7" fill="#000" />
<rect x="156" y="422" width="9" height="5" fill="#fff" />
<rect x="176" y="398" width="1" height="39" fill="#000" />
<rect x="171" y="403" width="11" height="16" fill="#000" />
<rect x="172" y="404" width="9" height="14" fill="#fff" />
<rect x="192" y="392" width="1" height="36" fill="#000" />
<rect x="187" y="395" width="11" height="11" fill="#000" />
<rect x="188" y="396" width="9" height="9" fill="#fff" />
<rect x="208" y="389" width="1" height="15" fill="#000" />
<rect x="203" y="396" width="11" height="4" fill="#000" />
<rect x="224" y="394" width="1" height="25" fill="#000" />
<rect x="219" y="401" width="11" height="15" fill="#000" />
<rect x="240" y="362" width="1" height="63" fill="#000" />
<rect x="235" y="374" width="11" height="45" fill="#000" />
<rect x="236" y="375" width="9" height="43" fill="#fff" />
<rect x="256" y="368" width="1" height="34" fill="#000" />
<rect x="251" y="377" width="11" height="4" fill="#000" />
<rect x="272" y="350" width="1" height="37" fill="#000" />
<rect x="267" y="359" width="11" height="23" fill="#000" />
<rect x="268" y="360" width="9" height="21" fill="#fff" />
<rect x="288" y="355" width="1" height="17" fill="#000" />
<rect x="283" y="356" width="11" height="3" fill="#000" />
<rect x="284" y="357" width="9" height="1" fill="#fff" />
<rect x="304" y="347" width="1" height="16" fill="#000" />
<rect x="299" y="347" width="11" height="7" fill="#000" />
<rect x="300" y="348" width="9" height="5" fill="#fff" />
<rect x="320" y="285" width="1" height="60" fill="#000" />
<rect x="315" y="315" width="11" height="30" fill="#000" />
<rect x="316" y="316" width="9" height="28" fill="#fff" />
<rect x="336" y="321" width="1" height="98" fill="#000" />
<rect x="331" y="321" width="11" height="81" fill="#000" />
<rect x="352" y="380" width="1" height="39" fill="#000" />
<rect x="347" y="389" width="11" height="10" fill="#000" />
<rect x="348" y="390" width="9" height="8" fill="#fff" />
<rect x="368" y="383" width="1" height="48" fill="#000" />
<rect x="363" y="386" width="11" height="16" fill="#000" />
<rect x="384" y="386" width="1" height="33" fill="#000" />
<rect x="379" y="389" width="11" height="15" fill="#000" />
<rect x="380" y="390" width="9" height="13" fill="#fff" />
<rect x="400" y="377" width="1" height="16" fill="#000" />
<rect x="395" y="384" width="11" height="4" fill="#000" />
<rect x="396" y="385" width="9" height="2" fill="#fff" />
<rect x="416" y="383" width="1" height="21" fill="#000" />
<rect x="411" y="383" width="11" height="21" fill="#000" />
<rect x="432" y="374" width="1" height="69" fill="#000" />
<rect x="427" y="389" width="11" height="13" fill="#000" />
<rect x="428" y="390" width="9" height="11" fill="#fff" />
<rect x="448" y="383" width="1" height="39" fill="#000" />
<rect x="443" y="386" width="11" height="18" fill="#000" />
<rect x="464" y="398" width="1" height="109" fill="#000" />
<rect x="459" y="401" width="11" height="72" fill="#000" />
<rect x="480" y="454" width="1" height="33" fill="#000" />
<rect x="475" y="473" width="11" height="14" fill="#000" />
<rect x="496" y="477" width="1" height="16" fill="#000" />
<rect x="491" y="485" width="11" height="7" fill="#000" />
<rect x="512" y="492" width="1" height="31" fill="#000" />
<rect x="507" y="492" width="11" height="28" fill="#000" />
<rect x="528" y="454" width="1" height="78" fill="#000" />
<rect x="523" y="466" width="11" height="58" fill="#000" />
<rect x="524" y="467" width="9" height="56" fill="#fff" />
<rect x="544" y="423" width="1" height="50" fill="#000" />
<rect x="539" y="430" width="11" height="40" fill="#000" />
<rect x="540" y="431" width="9" height="38" fill="#fff" />
<rect x="560" y="421" width="1" height="56" fill="#000" />
<rect x="555" y="433" width="11" height="42" fill="#000" />
<rect x="576" y="469" width="1" height="24" fill="#000" />
<rect x="571" y="472" width="11" height="6" fill="#000" />
<rect x="592" y="463" width="1" height="15" fill="#000" />
<rect x="587" y="467" width="11" height="10" fill="#000" />
<rect x="588" y="468" width="9" height="8" fill="#fff" />
<rect x="608" y="448" width="1" height="33" fill="#000" />
<rect x="603" y="469" width="11" height="4" fill="#000" />
<rect x="604" y="470" width="9" height="2" fill="#fff" />
<rect x="624" y="427" width="1" height="60" fill="#000" />
<rect x="619" y="460" width="11" height="7" fill="#000" />
<rect x="620" y="461" width="9" height="5" fill="#fff" />
<rect x="640" y="430" width="1" height="51" fill="#000" />
<rect x="635" y="451" width="11" height="7" fill="#000" />
<rect x="636" y="452" width="9" height="5" fill="#fff" />
<rect x="656" y="421" width="1" height="34" fill="#000" />
<rect x="651" y="430" width="11" height="20" fill="#000" />
<rect x="652" y="431" width="9" height="18" fill="#fff" />
<rect x="672" y="415" width="1" height="37" fill="#000" />
<rect x="667" y="433" width="11" height="16" fill="#000" />
<rect x="688" y="427" width="1" height="22" fill="#000" />
<rect x="683" y="430" width="11" height="17" fill="#000" />
<rect x="684" y="431" width="9" height="15" fill="#fff" />
<rect x="704" y="377" width="1" height="66" fill="#000" />
<rect x="699" y="377" width="11" height="45" fill="#000" />
<rect x="700" y="378" width="9" height="43" fill="#fff" />
<rect x="720" y="347" width="1" height="102" fill="#000" />
<rect x="715" y="374" width="11" height="7" fill="#000" />
<rect x="736" y="235" width="1" height="149" fill="#000" />
<rect x="731" y="236" width="11" height="148" fill="#000" />
<rect x="732" y="237" width="9" height="146" fill="#fff" />
<rect x="752" y="216" width="1" height="41" fill="#000" />
<rect x="747" y="235" width="11" height="7" fill="#000" />
<rect x="768" y="225" width="1" height="32" fill="#000" />
<rect x="763" y="235" width="11" height="7" fill="#000" />
<rect x="764" y="236" width="9" height="5" fill="#fff" />
<rect x="784" y="229" width="1" height="10" fill="#000" />
<rect x="779" y="229" width="11" height="8" fill="#000" />
<rect x="780" y="230" width="9" height="6" fill="#fff" />
<rect x="800" y="193" width="1" height="19" fill="#000" />
<rect x="795" y="205" width="11" height="6" fill="#000" />
<rect x="796" y="206" width="9" height="4" fill="#fff" />
<rect x="816" y="128" width="1" height="87" fill="#000" />
<rect x="811" y="155" width="11" height="54" fill="#000" />
<rect x="812" y="156" width="9" height="52" fill="#fff" />
<rect x="832" y="146" width="1" height="39" fill="#000" />
<rect x="827" y="158" width="11" height="10" fill="#000" />
<rect x="848" y="161" width="1" height="35" fill="#000" />
<rect x="843" y="170" width="11" height="10" fill="#000" />
<rect x="864" y="167" width="1" height="24" fill="#000" />
<rect x="859" y="167" width="11" height="16" fill="#000" />
<rect x="860" y="168" width="9" height="14" fill="#fff" />
<rect x="880" y="167" width="1" height="18" fill="#000" />
<rect x="875" y="168" width="11" height="12" fill="#000" />
<rect x="896" y="170" width="1" height="18" fill="#000" />
<rect x="891" y="176" width="11" height="7" fill="#000" />
<rect x="912" y="113" width="1" height="75" fill="#000" />
<rect x="907" y="137" width="11" height="48" fill="#000" />
<rect x="908" y="138" width="9" height="46" fill="#fff" />
<rect x="928" y="99" width="1" height="45" fill="#000" />
<rect x="923" y="108" width="11" height="33" fill="#000" />
<rect x="924" y="109" width="9" height="31" fill="#fff" />
<rect x="944" y="72" width="1" height="40" fill="#000" />
<rect x="939" y="105" width="11" height="7" fill="#000" />
<rect x="940" y="106" width="9" height="5" fill="#fff" />
<rect x="960" y="93" width="1" height="19" fill="#000" />
<rect x="955" y="97" width="11" height="10" fill="#000" />
<rect x="956" y="98" width="9" height="8" fill="#fff" />
<rect x="976" y="93" width="1" height="29" fill="#000" />
<rect x="971" y="99" width="11" height="23" fill="#000" />
<rect x="992" y="102" width="1" height="18" fill="#000" />
<rect x="987" y="109" width="11" height="8" fill="#000" />
<rect x="988" y="110" width="9" height="6" fill="#fff" />
<rect x="1008" y="60" width="1" height="96" fill="#000" />
<rect x="1003" y="99" width="11" height="21" fill="#000" />
<rect x="1004" y="100" width="9" height="19" fill="#fff" />
<rect x="1024" y="72" width="1" height="40" fill="#000" />
<rect x="1019" y="75" width="11" height="28" fill="#000" />
<rect x="1020" y="76" width="9" height="26" fill="#fff" />
<rect x="1040" y="57" width="1" height="50" fill="#000" />
<rect x="1035" y="72" width="11" height="16" fill="#000" />
<rect x="1056" y="81" width="1" height="36" fill="#000" />
<rect x="1051" y="84" width="11" height="16" fill="#000" />
<rect x="1072" y="99" width="1" height="10" fill="#000" />
<rect x="1067" y="102" width="11" height="2" fill="#000" />
<rect x="1088" y="95" width="1" height="19" fill="#000" />
<rect x="1083" y="99" width="11" height="4" fill="#000" />
<rect x="1084" y="100" width="9" height="2" fill="#fff" />
<rect x="1104" y="93" width="1" height="119" fill="#000" />
<rect x="1099" y="96" width="11" height="101" fill="#000" />
<rect x="1120" y="158" width="1" height="75" fill="#000" />
<rect x="1115" y="176" width="11" height="18" fill="#000" />
<rect x="1116" y="177" width="9" height="16" fill="#fff" />
<rect x="1136" y="111" width="1" height="66" fill="#000" />
<rect x="1131" y="143" width="11" height="32" fill="#000" />
<rect x="1132" y="144" width="9" height="30" fill="#fff" />
<rect x="1152" y="100" width="1" height="44" fill="#000" />
<rect x="1147" y="105" width="11" height="36" fill="#000" />
<rect x="1148" y="106" width="9" height="34" fill="#fff" />
<rect x="1168" y="100" width="1" height="29" fill="#000" />
<rect x="1163" y="108" width="11" height="1" fill="#000" />
<rect x="1184" y="111" width="1" height="15" fill="#000" />
<rect x="1179" y="111" width="11" height="15" fill="#000" />
<rect x="1200" y="116" width="1" height="49" fill="#000" />
<rect x="1195" y="119" width="11" height="31" fill="#000" />
<rect x="1216" y="137" width="1" height="25" fill="#000" />
<rect x="1211" y="149" width="11" height="4" fill="#000" />
<rect x="1212" y="150" width="9" height="2" fill="#fff" />
<rect x="1232" y="146" width="1" height="7" fill="#000" />
<rect x="1227" y="147" width="11" height="4" fill="#000" />
<rect x="1228" y="148" width="9" height="2" fill="#fff" />
<rect x="1248" y="146" width="1" height="4" fill="#000" />
<rect x="1243" y="146" width="11" height="1" fill="#000" />
<rect x="1264" y="143" width="1" height="4" fill="#000" />
<rect x="1259" y="145" width="11" height="2" fill="#000" />
<rect x="1280" y="118" width="1" height="35" fill="#000" />
<rect x="1275" y="123" width="11" height="21" fill="#000" />
<rect x="1296" y="96" width="1" height="112" fill="#000" />
<rect x="1291" y="146" width="11" height="7" fill="#000" />
<rect x="1312" y="122" width="1" height="32" fill="#000" />
<rect x="1307" y="128" width="11" height="26" fill="#000" />
<rect x="1308" y="129" width="9" height="24" fill="#fff" />
<rect x="1328" y="122" width="1" height="31" fill="#000" />
<rect x="1323" y="125" width="11" height="3" fill="#000" />
<rect x="1324" y="126" width="9" height="1" fill="#fff" />
<rect x="1344" y="118" width="1" height="15" fill="#000" />
<rect x="1339" y="119" width="11" height="1" fill="#000" />
<rect x="1360" y="93" width="1" height="36" fill="#000" />
<rect x="1355" y="93" width="11" height="30" fill="#000" />
<rect x="1356" y="94" width="9" height="28" fill="#fff" />
</g>
<rect x="1262" y="112" width="94" height="12" fill="#00ff00" shape-rendering="crispEdges"/>
<g shape-rendering="crispEdges">
<rect x="-1" y="628" width="2" height="114" fill="#c0c0c0" />
<rect x="15" y="637" width="2" height="105" fill="#c0c0c0" />
<rect x="31" y="641" width="2" height="101" fill="#c0c0c0" />
<rect x="47" y="635" width="2" height="107" fill="#c0c0c0" />
<rect x="63" y="621" width="2" height="121" fill="#c0c0c0" />
<rect x="79" y="611" width="2" height="131" fill="#c0c0c0" />
<rect x="95" y="610" width="2" height="132" fill="#c0c0c0" />
<rect x="111" y="609" width="2" height="133" fill="#c0c0c0" />
<rect x="127" y="613" width="2" height="129" fill="#c0c0c0" />
<rect x="143" y="619" width="2" height="123" fill="#c0c0c0" />
<rect x="159" y="623" width="2" height="119" fill="#c0c0c0" />
<rect x="175" y="625" width="2" height="117" fill="#c0c0c0" />
<rect x="191" y="626" width="2" height="116" fill="#c0c0c0" />
<rect x="207" y="630" width="2" height="112" fill="#c0c0c0" />
<rect x="223" y="636" width="2" height="106" fill="#c0c0c0" />
<rect x="239" y="636" width="2" height="106" fill="#c0c0c0" />
<rect x="255" y="638" width="2" height="104" fill="#c0c0c0" />
<rect x="271" y="637" width="2" height="105" fill="#c0c0c0" />
<rect x="287" y="638" width="2" height="104" fill="#c0c0c0" />
<rect x="303" y="638" width="2" height="104" fill="#c0c0c0" />
<rect x="319" y="636" width="2" height="106" fill="#c0c0c0" />
<rect x="335" y="646" width="2" height="96" fill="#c0c0c0" />
<rect x="351" y="654" width="2" height="88" fill="#c0c0c0" />
<rect x="367" y="663" width="2" height="79" fill="#c0c0c0" />
<rect x="383" y="669" width="2" height="73" fill="#c0c0c0" />
<rect x="399" y="675" width="2" height="67" fill="#c0c0c0" />
<rect x="415" y="682" width="2" height="60" fill="#c0c0c0" />
<rect x="431" y="687" width="2" height="55" fill="#c0c0c0" />
<rect x="447" y="693" width="2" height="49" fill="#c0c0c0" />
<rect x="463" y="709" width="2" height="33" fill="#c0c0c0" />
<rect x="479" y="723" width="2" height="19" fill="#c0c0c0" />
<rect x="495" y="736" width="2" height="6" fill="#c0c0c0" />
<rect x="511" y="742" width="2" height="9" fill="#c0c0c0" />
<rect x="527" y="742" width="2" height="12" fill="#c0c0c0" />
<rect x="543" y="742" width="2" height="9" fill="#c0c0c0" />
<rect x="559" y="742" width="2" height="13" fill="#c0c0c0" />
<rect x="575" y="742" width="2" height="16" fill="#c0c0c0" />
<rect x="591" y="742" width="2" height="17" fill="#c0c0c0" />
<rect x="607" y="742" width="2" height="18" fill="#c0c0c0" />
<rect x="623" y="742" width="2" height="17" fill="#c0c0c0" />
<rect x="639" y="742" width="2" height="15" fill="#c0c0c0" />
<rect x="655" y="742" width="2" height="10" fill="#c0c0c0" />
<rect x="671" y="742" width="2" height="9" fill="#c0c0c0" />
<rect x="687" y="742" width="2" height="5" fill="#c0c0c0" />
<rect x="703" y="735" width="2" height="7" fill="#c0c0c0" />
<rect x="719" y="727" width="2" height="15" fill="#c0c0c0" />
<rect x="735" y="700" width="2" height="42" fill="#c0c0c0" />
<rect x="751" y="679" width="2" height="63" fill="#c0c0c0" />
<rect x="767" y="663" width="2" height="79" fill="#c0c0c0" />
<rect x="783" y="650" width="2" height="92" fill="#c0c0c0" />
<rect x="799" y="638" width="2" height="104" fill="#c0c0c0" />
<rect x="815" y="622" width="2" height="120" fill="#c0c0c0" />
<rect x="831" y="613" width="2" height="129" fill="#c0c0c0" />
<rect x="847" y="608" width="2" height="134" fill="#c0c0c0" />
<rect x="863" y="605" width="2" height="137" fill="#c0c0c0" />
<rect x="879" y="606" width="2" height="136" fill="#c0c0c0" />
<rect x="895" y="608" width="2" height="134" fill="#c0c0c0" />
<rect x="911" y="605" width="2" height="137" fill="#c0c0c0" />
<rect x="927" y="599" width="2" height="143" fill="#c0c0c0" />
<rect x="943" y="597" width="2" height="145" fill="#c0c0c0" />
<rect x="959" y="595" width="2" height="147" fill="#c0c0c0" />
<rect x="975" y="599" width="2" height="143" fill="#c0c0c0" />
<rect x="991" y="601" width="2" height="141" fill="#c0c0c0" />
<rect x="1007" y="604" width="2" height="138" fill="#c0c0c0" />
<rect x="1023" y="603" width="2" height="139" fill="#c0c0c0" />
<rect x="1039" y="607" width="2" height="135" fill="#c0c0c0" />
<rect x="1055" y="613" width="2" height="129" fill="#c0c0c0" />
<rect x="1071" y="619" width="2" height="123" fill="#c0c0c0" />
<rect x="1087" y="625" width="2" height="117" fill="#c0c0c0" />
<rect x="1103" y="646" width="2" height="96" fill="#c0c0c0" />
<rect x="1119" y="660" width="2" height="82" fill="#c0c0c0" />
<rect x="1135" y="667" width="2" height="75" fill="#c0c0c0" />
<rect x="1151" y="668" width="2" height="74" fill="#c0c0c0" />
<rect x="1167" y="670" width="2" height="72" fill="#c0c0c0" />
<rect x="1183" y="674" width="2" height="68" fill="#c0c0c0" />
<rect x="1199" y="683" width="2" height="59" fill="#c0c0c0" />
<rect x="1215" y="690" width="2" height="52" fill="#c0c0c0" />
<rect x="1231" y="696" width="2" height="46" fill="#c0c0c0" />
<rect x="1247" y="700" width="2" height="42" fill="#c0c0c0" />
<rect x="1263" y="705" width="2" height="37" fill="#c0c0c0" />
<rect x="1279" y="708" width="2" height="34" fill="#c0c0c0" />
<rect x="1295" y="712" width="2" height="30" fill="#c0c0c0" />
<rect x="1311" y="713" width="2" height="29" fill="#c0c0c0" />
<rect x="1327" y="713" width="2" height="29" fill="#c0c0c0" />
<rect x="1343" y="712" width="2" height="30" fill="#c0c0c0" />
<rect x="1359" y="708" width="2" height="34" fill="#c0c0c0" />
</g>
<path d="M1002 601.5h3M1008 601.5h3M1014 601.5h3M1020 601.5h3M1026 601.5h3M1032 601.5h3M1038 601.5h3M1044 601.5h3M973 602.5h2M978 602.5h3M984 602.5h3M990 602.5h3M996 602.5h3M1050 602.5h3M1056 602.5h3M966 603.5h3M1062 603.5h3M960 604.5h3M1069 604.5h2M954 605.5h3M1075 605.5h2M948 606.5h3M1081 606.5h2M943 607.5h2M1086 607.5h3M937 609.5h2M1093 609.5h2M1098 610.5h2M930 611.5h3M1104 612.5h2M924 613.5h3M918 615.5h3M1110 615.5h3M186 617.5h3M192 617.5h3M198 617.5h3M912 617.5h2M174 618.5h3M180 618.5h3M204 618.5h3M1117 618.5h2M168 619.5h3M211 619.5h2M907 619.5h2M157 620.5h2M162 620.5h3M217 620.5h2M1122 620.5h2M150 621.5h3M222 621.5h3M25 622.5h2M30 622.5h3M138 622.5h3M144 622.5h3M229 622.5h2M234 622.5h3M900 622.5h2M18 623.5h3M37 623.5h2M42 623.5h3M121 623.5h2M126 623.5h3M132 623.5h3M240 623.5h3M1128 623.5h2M12 624.5h3M48 624.5h3M54 624.5h3M60 624.5h3M66 624.5h3M108 624.5h3M114 624.5h3M7 625.5h2M73 625.5h2M78 625.5h3M84 625.5h3M90 625.5h3M96 625.5h3M102 625.5h3M247 625.5h2M894 625.5h2M252 626.5h3M1134 626.5h2M0 627.5h3M259 628.5h2M888 628.5h2M265 629.5h2M1140 629.5h2M270 630.5h3M277 631.5h2M282 631.5h3M882 631.5h2M288 632.5h3M1147 632.5h2M294 633.5h3M301 634.5h2M306 634.5h3M1152 634.5h2M313 635.5h2M318 635.5h3M325 636.5h2M330 636.5h3M336 637.5h3M1159 637.5h2M342 638.5h3M870 638.5h2M348 639.5h2M1165 639.5h2M355 641.5h2M865 641.5h2M361 642.5h2M1171 642.5h2M366 643.5h3M372 644.5h3M378 645.5h3M384 646.5h2M859 646.5h2M390 648.5h3M1182 648.5h2M396 650.5h3M1188 651.5h2M402 652.5h3M409 654.5h2M1195 654.5h2M415 656.5h2M1200 656.5h2M421 658.5h2M426 659.5h2M1206 659.5h2M432 661.5h2M1212 662.5h2M439 664.5h2M1218 665.5h2M445 666.5h2M835 667.5h2M450 668.5h2M1225 668.5h2M456 671.5h2M1231 671.5h2M829 672.5h2M1236 673.5h2M462 674.5h2M1242 676.5h2M823 677.5h2M469 678.5h2M1248 679.5h3M474 681.5h2M1255 681.5h2M1260 682.5h3M480 684.5h2M1267 684.5h2M1272 685.5h3M486 687.5h2M1279 687.5h2M1285 689.5h2M492 690.5h2M1290 690.5h2M1296 692.5h2M1302 694.5h3M1308 696.5h3M1314 698.5h3M1321 700.5h2M510 702.5h2M1327 702.5h2M1332 703.5h3M793 704.5h2M1338 704.5h3M516 705.5h2M1344 705.5h3M1350 706.5h3M1356 707.5h2M522 708.5h2M529 712.5h2M781 713.5h2M535 715.5h2M540 718.5h2M546 721.5h2M769 722.5h2M552 724.5h2M763 726.5h2M558 727.5h2M564 730.5h2M756 731.5h2M571 733.5h2M576 735.5h2M750 735.5h2M582 738.5h3M745 738.5h2M589 741.5h2M739 742.5h2M594 743.5h3M600 745.5h2M732 745.5h3M726 747.5h3M607 748.5h2M720 749.5h2M613 750.5h2M714 750.5h3M618 751.5h2M708 751.5h3M702 752.5h3M624 753.5h3M697 753.5h2M630 754.5h3M691 754.5h2M637 755.5h2M642 755.5h3M648 755.5h3M654 755.5h3M660 755.5h3M666 755.5h3M672 755.5h3M678 755.5h3M684 755.5h3M6.5 626v1M24.5 623v1M36.5 622v1M72.5 624v1M120.5 624v1M156.5 621v1M210.5 618v1M216.5 619v1M228.5 621v1M246.5 624v1M258.5 627v1M264.5 628v1M276.5 630v1M300.5 633v1M312.5 634v1M324.5 635v1M350.5 640v1M354.5 640v1M360.5 641v1M386.5 647v1M408.5 653v1M414.5 655v1M420.5 657v1M428.5 660v1M434.5 662v1M438.5 663v1M444.5 665v1M452.5 669v1M458.5 672v1M464.5 675v1M468.5 677v1M476.5 682v1M482.5 685v1M488.5 688v1M494.5 691v1M498.5 693v1M499.5 694v1M500.5 695v1M504.5 697v1M505.5 698v1M506.5 699v1M512.5 703v1M518.5 706v1M524.5 709v1M528.5 711v1M534.5 714v1M542.5 719v1M548.5 722v1M554.5 725v1M560.5 728v1M566.5 731v1M570.5 732v1M578.5 736v1M588.5 740v1M602.5 746v1M606.5 747v1M612.5 749v1M620.5 752v1M636.5 754v1M690.5 755v1M696.5 754v1M722.5 748v1M738.5 743v1M744.5 739v1M752.5 734v1M758.5 730v1M762.5 727v1M768.5 723v1M774.5 719v1M775.5 718v1M776.5 717v1M780.5 714v1M786.5 710v1M787.5 709v1M788.5 708v1M792.5 705v1M798.5 701v1M799.5 700v1M800.5 699v1M804.5 695v1M805.5 694v1M806.5 693v1M810.5 689v1M811.5 688v1M812.5 687v1M816.5 683v1M817.5 682v1M818.5 681v1M822.5 678v1M828.5 673v1M834.5 668v1M840.5 663v1M841.5 662v1M842.5 661v1M846.5 658v1M847.5 657v1M848.5 656v1M852.5 653v1M853.5 652v1M854.5 651v1M858.5 647v1M864.5 642v1M872.5 637v1M876.5 635v1M877.5 634v1M878.5 633v1M884.5 630v1M890.5 627v1M896.5 624v1M902.5 621v1M906.5 620v1M914.5 616v1M936.5 610v1M942.5 608v1M972.5 603v1M1068.5 603v1M1074.5 604v1M1080.5 605v1M1092.5 608v1M1100.5 611v1M1106.5 613v1M1116.5 617v1M1124.5 621v1M1130.5 624v1M1136.5 627v1M1142.5 630v1M1146.5 631v1M1154.5 635v1M1158.5 636v1M1164.5 638v1M1170.5 641v1M1176.5 644v1M1177.5 645v1M1178.5 646v1M1184.5 649v1M1190.5 652v1M1194.5 653v1M1202.5 657v1M1208.5 660v1M1214.5 663v1M1220.5 666v1M1224.5 667v1M1230.5 670v1M1238.5 674v1M1244.5 677v1M1254.5 680v1M1266.5 683v1M1278.5 686v1M1284.5 688v1M1292.5 691v1M1298.5 693v1M1320.5 699v1M1326.5 701v1M1358.5 708v1" fill="none" stroke="#ff0000" stroke-width="1" shape-rendering="crispEdges"/>
<g shape-rendering="crispEdges">
<line x1="1" y1="803.5" x2="1627" y2="803.5" stroke="#c0c0c0" stroke-width="1" stroke-dasharray="3,3"/>
<line x1="1" y1="850.5" x2="1627" y2="850.5" stroke="#c0c0c0" stroke-width="1" stroke-dasharray="3,3"/>
<line x1="1" y1="906.5" x2="1627" y2="906.5" stroke="#c0c0c0" stroke-width="1" stroke-dasharray="3,3"/>
</g>
<path d="M815 805.5h4M957 805.5h4M812 806.5h3M819 806.5h6M949 806.5h8M961 806.5h2M809 807.5h3M825 807.5h5M927 807.5h22M805 808.5h4M830 808.5h4M923 808.5h4M964 808.5h2M802 809.5h3M834 809.5h3M919 809.5h4M1022 809.5h4M798 810.5h4M837 810.5h4M915 810.5h4M967 810.5h2M1017 810.5h5M1026 810.5h3M793 811.5h5M841 811.5h3M911 811.5h4M1011 811.5h6M1029 811.5h4M787 812.5h6M844 812.5h3M857 812.5h10M909 812.5h2M1005 812.5h6M1033 812.5h3M736 813.5h9M761 813.5h26M847 813.5h10M867 813.5h4M906 813.5h3M971 813.5h2M997 813.5h8M1036 813.5h3M745 814.5h16M871 814.5h4M903 814.5h3M989 814.5h8M1039 814.5h4M875 815.5h4M901 815.5h2M974 815.5h2M981 815.5h8M1043 815.5h4M879 816.5h10M898 816.5h3M976 816.5h5M1047 816.5h4M319 817.5h2M889 817.5h9M1051 817.5h4M77 818.5h4M316 818.5h3M1055 818.5h4M69 819.5h8M81 819.5h2M313 819.5h3M1059 819.5h6M63 820.5h6M83 820.5h2M309 820.5h4M1065 820.5h5M1081 820.5h8M61 821.5h2M85 821.5h2M306 821.5h3M1070 821.5h11M59 822.5h2M87 822.5h2M301 822.5h5M57 823.5h2M293 823.5h8M54 824.5h3M90 824.5h2M271 824.5h22M52 825.5h2M92 825.5h2M267 825.5h4M50 826.5h2M94 826.5h2M105 826.5h9M189 826.5h8M239 826.5h6M263 826.5h4M48 827.5h2M96 827.5h9M114 827.5h3M181 827.5h8M197 827.5h8M237 827.5h2M245 827.5h8M259 827.5h4M46 828.5h2M117 828.5h2M174 828.5h7M205 828.5h5M235 828.5h2M253 828.5h6M119 829.5h3M169 829.5h5M210 829.5h3M233 829.5h2M43 830.5h2M122 830.5h3M163 830.5h6M213 830.5h4M230 830.5h3M1358 830.5h2M41 831.5h2M125 831.5h2M153 831.5h10M217 831.5h3M228 831.5h2M1356 831.5h2M127 832.5h26M220 832.5h3M226 832.5h2M1151 832.5h6M1354 832.5h2M38 833.5h2M223 833.5h3M704 833.5h9M1149 833.5h2M1157 833.5h8M1352 833.5h2M713 834.5h8M1147 834.5h2M1165 834.5h5M1350 834.5h2M35 835.5h2M701 835.5h2M1145 835.5h2M1170 835.5h3M1348 835.5h2M33 836.5h2M1142 836.5h3M1173 836.5h4M1346 836.5h2M0 837.5h3M30 837.5h3M1140 837.5h2M1177 837.5h3M1341 837.5h5M3 838.5h6M25 838.5h5M697 838.5h2M1138 838.5h2M1180 838.5h3M1333 838.5h8M9 839.5h5M19 839.5h6M1136 839.5h2M1183 839.5h3M1321 839.5h12M14 840.5h5M349 840.5h6M393 840.5h9M1134 840.5h2M1186 840.5h2M1312 840.5h9M341 841.5h8M355 841.5h6M381 841.5h12M402 841.5h3M693 841.5h2M1132 841.5h2M1188 841.5h2M1310 841.5h2M336 842.5h5M361 842.5h5M373 842.5h8M405 842.5h4M430 842.5h5M1130 842.5h2M1190 842.5h3M1308 842.5h2M366 843.5h7M409 843.5h3M425 843.5h5M435 843.5h4M1128 843.5h2M1193 843.5h2M1306 843.5h2M412 844.5h3M419 844.5h6M439 844.5h4M689 844.5h2M1126 844.5h2M1195 844.5h2M1273 844.5h10M1304 844.5h2M415 845.5h4M443 845.5h4M655 845.5h3M687 845.5h2M1124 845.5h2M1197 845.5h2M1241 845.5h32M1283 845.5h4M1302 845.5h2M447 846.5h2M653 846.5h2M658 846.5h3M685 846.5h2M1122 846.5h2M1199 846.5h42M1287 846.5h4M1300 846.5h2M650 847.5h3M661 847.5h2M682 847.5h3M1119 847.5h3M1291 847.5h4M1298 847.5h2M647 848.5h3M663 848.5h3M679 848.5h3M1117 848.5h2M1295 848.5h3M542 849.5h2M545 849.5h2M645 849.5h2M666 849.5h3M677 849.5h2M1115 849.5h2M540 850.5h2M547 850.5h2M642 850.5h3M669 850.5h2M674 850.5h3M1113 850.5h2M538 851.5h2M638 851.5h4M671 851.5h3M1110 851.5h3M536 852.5h2M550 852.5h2M633 852.5h5M1108 852.5h2M534 853.5h2M627 853.5h6M1106 853.5h2M532 854.5h2M553 854.5h2M621 854.5h6M1104 854.5h2M530 855.5h2M555 855.5h2M613 855.5h8M528 856.5h2M589 856.5h24M558 857.5h2M581 857.5h8M560 858.5h21M464 862.5h3M467 863.5h6M473 864.5h5M478 865.5h11M489 866.5h9M498 867.5h3M501 868.5h2M503 869.5h3M506 870.5h3M509 871.5h2M511 872.5h2M37.5 834v1M40.5 832v1M45.5 829v1M89.5 823v1M321.5 818v2M322.5 820v1M323.5 821v2M324.5 823v2M325.5 825v1M326.5 826v2M327.5 828v1M328.5 829v2M329.5 831v1M330.5 832v2M331.5 834v1M332.5 835v2M333.5 837v2M334.5 839v1M335.5 840v2M449.5 847v1M450.5 848v1M451.5 849v1M452.5 850v1M453.5 851v1M454.5 852v1M455.5 853v1M456.5 854v1M457.5 855v1M458.5 856v1M459.5 857v1M460.5 858v1M461.5 859v1M462.5 860v1M463.5 861v1M513.5 871v1M514.5 870v1M515.5 869v1M516.5 868v1M517.5 867v1M518.5 866v1M519.5 865v1M520.5 864v1M521.5 863v1M522.5 862v1M523.5 861v1M524.5 860v1M525.5 859v1M526.5 858v1M527.5 857v1M544.5 848v1M549.5 851v1M552.5 853v1M557.5 856v1M691.5 843v1M692.5 842v1M695.5 840v1M696.5 839v1M699.5 837v1M700.5 836v1M703.5 834v1M721.5 833v1M722.5 831v2M723.5 830v1M724.5 829v1M725.5 827v2M726.5 826v1M727.5 825v1M728.5 823v2M729.5 822v1M730.5 821v1M731.5 819v2M732.5 818v1M733.5 817v1M734.5 815v2M735.5 814v1M963.5 807v1M966.5 809v1M969.5 811v1M970.5 812v1M973.5 814v1M1088.5 821v1M1089.5 822v2M1090.5 824v2M1091.5 826v2M1092.5 828v2M1093.5 830v2M1094.5 832v2M1095.5 834v2M1096.5 836v3M1097.5 839v2M1098.5 841v2M1099.5 843v2M1100.5 845v2M1101.5 847v2M1102.5 849v2M1103.5 851v2M1104.5 853v1M1360.5 829v1" fill="none" stroke="#1e90ff" stroke-width="1" shape-rendering="crispEdges"/>
<g shape-rendering="crispEdges">
<rect x="1628" y="52" width="2" height="1" fill="#000" />
<rect x="1628" y="85" width="2" height="1" fill="#000" />
<rect x="1628" y="118" width="2" height="1" fill="#000" />
<rect x="1628" y="151" width="2" height="1" fill="#000" />
<rect x="1628" y="184" width="2" height="1" fill="#000" />
<rect x="1628" y="217" width="2" height="1" fill="#000" />
<rect x="1628" y="250" width="2" height="1" fill="#000" />
<rect x="1628" y="283" width="2" height="1" fill="#000" />
<rect x="1628" y="316" width="2" height="1" fill="#000" />
<rect x="1628" y="349" width="2" height="1" fill="#000" />
<rect x="1628" y="382" width="2" height="1" fill="#000" />
<rect x="1628" y="415" width="2" height="1" fill="#000" />
<rect x="1628" y="448" width="2" height="1" fill="#000" />
<rect x="1628" y="481" width="2" height="1" fill="#000" />
<rect x="1628" y="514" width="2" height="1" fill="#000" />
<rect x="1628" y="547" width="2" height="1" fill="#000" />
<rect x="1628" y="580" width="2" height="1" fill="#000" />
<rect x="1628" y="742" width="2" height="1" fill="#000" />
<rect x="1627" y="803" width="1" height="1" fill="#fff" />
<rect x="1627" y="850" width="1" height="1" fill="#fff" />
<rect x="1627" y="906" width="1" height="1" fill="#fff" />
<rect x="0" y="931" width="1" height="3" fill="#000" />
<rect x="64" y="931" width="1" height="3" fill="#000" />
<rect x="128" y="931" width="1" height="3" fill="#000" />
<rect x="192" y="931" width="1" height="3" fill="#000" />
<rect x="256" y="931" width="1" height="3" fill="#000" />
<rect x="320" y="931" width="1" height="3" fill="#000" />
<rect x="384" y="931" width="1" height="3" fill="#000" />
<rect x="448" y="931" width="1" height="3" fill="#000" />
<rect x="512" y="931" width="1" height="3" fill="#000" />
<rect x="576" y="931" width="1" height="3" fill="#000" />
<rect x="640" y="931" width="1" height="3" fill="#000" />
<rect x="704" y="931" width="1" height="3" fill="#000" />
<rect x="768" y="931" width="1" height="3" fill="#000" />
<rect x="832" y="931" width="1" height="3" fill="#000" />
<rect x="896" y="931" width="1" height="3" fill="#000" />
<rect x="960" y="931" width="1" height="3" fill="#000" />
<rect x="1024" y="931" width="1" height="3" fill="#000" />
<rect x="1088" y="931" width="1" height="3" fill="#000" />
<rect x="1152" y="931" width="1" height="3" fill="#000" />
<rect x="1216" y="931" width="1" height="3" fill="#000" />
<rect x="1280" y="931" width="1" height="3" fill="#000" />
<rect x="1344" y="931" width="1" height="3" fill="#000" />
</g>
<text class="ax" x="1632.6" y="56" textLength="33.2" lengthAdjust="spacingAndGlyphs" >22342.0</text>
<text class="ax" x="1632.6" y="89" textLength="33.2" lengthAdjust="spacingAndGlyphs" >22285.0</text>
<text class="ax" x="1632.6" y="122" textLength="33.2" lengthAdjust="spacingAndGlyphs" >22229.5</text>
<text class="ax" x="1632.6" y="155" textLength="33.2" lengthAdjust="spacingAndGlyphs" >22174.0</text>
<text class="ax" x="1632.6" y="188" textLength="33.2" lengthAdjust="spacingAndGlyphs" >22118.5</text>
<text class="ax" x="1632.6" y="221" textLength="33.2" lengthAdjust="spacingAndGlyphs" >22063.0</text>
<text class="ax" x="1632.6" y="254" textLength="33.2" lengthAdjust="spacingAndGlyphs" >22006.0</text>
<text class="ax" x="1632.6" y="287" textLength="33.2" lengthAdjust="spacingAndGlyphs" >21950.5</text>
<text class="ax" x="1632.6" y="320" textLength="33.2" lengthAdjust="spacingAndGlyphs" >21895.0</text>
<text class="ax" x="1632.6" y="353" textLength="33.2" lengthAdjust="spacingAndGlyphs" >21839.5</text>
<text class="ax" x="1632.6" y="386" textLength="33.2" lengthAdjust="spacingAndGlyphs" >21784.0</text>
<text class="ax" x="1632.6" y="419" textLength="33.2" lengthAdjust="spacingAndGlyphs" >21728.5</text>
<text class="ax" x="1632.6" y="452" textLength="33.2" lengthAdjust="spacingAndGlyphs" >21671.5</text>
<text class="ax" x="1632.6" y="485" textLength="33.2" lengthAdjust="spacingAndGlyphs" >21616.0</text>
<text class="ax" x="1632.6" y="518" textLength="33.2" lengthAdjust="spacingAndGlyphs" >21560.5</text>
<text class="ax" x="1632.6" y="551" textLength="33.2" lengthAdjust="spacingAndGlyphs" >21505.0</text>
<text class="ax" x="1632.6" y="584" textLength="33.2" lengthAdjust="spacingAndGlyphs" >21449.5</text>
<text class="ax" x="1631.2" y="596" textLength="22.6" lengthAdjust="spacingAndGlyphs" >140.6</text>
<text class="ax" x="1631.2" y="746" textLength="18" lengthAdjust="spacingAndGlyphs" >0.00</text>
<text class="ax" x="1631.2" y="765" textLength="26" lengthAdjust="spacingAndGlyphs" >-23.42</text>
<text class="ax" x="1631.2" y="781" textLength="14.8" lengthAdjust="spacingAndGlyphs" >100</text>
<text class="ax" x="1631.2" y="807" textLength="9.8" lengthAdjust="spacingAndGlyphs" >80</text>
<text class="ax" x="1631.2" y="854" textLength="9.8" lengthAdjust="spacingAndGlyphs" >50</text>
<text class="ax" x="1631.2" y="910" textLength="9.8" lengthAdjust="spacingAndGlyphs" >15</text>
<text class="ax" x="1631.2" y="927" textLength="5" lengthAdjust="spacingAndGlyphs" >0</text>
<text class="ax" x="-1.1" y="943" textLength="47.9" lengthAdjust="spacingAndGlyphs" >2 Apr 2019</text>
<text class="ax" x="62.9" y="943" textLength="50.3" lengthAdjust="spacingAndGlyphs" >3 Apr 04:00</text>
<text class="ax" x="126.9" y="943" textLength="50.3" lengthAdjust="spacingAndGlyphs" >3 Apr 23:30</text>
<text class="ax" x="190.9" y="943" textLength="50.3" lengthAdjust="spacingAndGlyphs" >4 Apr 14:55</text>
<text class="ax" x="254.9" y="943" textLength="50.3" lengthAdjust="spacingAndGlyphs" >5 Apr 04:00</text>
<text class="ax" x="318.9" y="943" textLength="50.3" lengthAdjust="spacingAndGlyphs" >7 Apr 23:30</text>
<text class="ax" x="382.9" y="943" textLength="50.3" lengthAdjust="spacingAndGlyphs" >8 Apr 14:55</text>
<text class="ax" x="446.9" y="943" textLength="50.3" lengthAdjust="spacingAndGlyphs" >9 Apr 04:00</text>
<text class="ax" x="510.9" y="943" textLength="50.3" lengthAdjust="spacingAndGlyphs" >9 Apr 23:30</text>
<text class="ax" x="574.9" y="943" textLength="54.4" lengthAdjust="spacingAndGlyphs" >10 Apr 14:55</text>
<text class="ax" x="638.9" y="943" textLength="54.4" lengthAdjust="spacingAndGlyphs" >11 Apr 04:00</text>
<text class="ax" x="702.9" y="943" textLength="54.4" lengthAdjust="spacingAndGlyphs" >11 Apr 23:30</text>
<text class="ax" x="766.9" y="943" textLength="54.4" lengthAdjust="spacingAndGlyphs" >12 Apr 14:55</text>
<text class="ax" x="830.9" y="943" textLength="54.4" lengthAdjust="spacingAndGlyphs" >15 Apr 04:00</text>
<text class="ax" x="894.9" y="943" textLength="54.4" lengthAdjust="spacingAndGlyphs" >15 Apr 23:30</text>
<text class="ax" x="958.9" y="943" textLength="54.4" lengthAdjust="spacingAndGlyphs" >16 Apr 14:55</text>
<text class="ax" x="1022.9" y="943" textLength="54.4" lengthAdjust="spacingAndGlyphs" >17 Apr 04:00</text>
<text class="ax" x="1086.9" y="943" textLength="54.4" lengthAdjust="spacingAndGlyphs" >17 Apr 23:30</text>
<text class="ax" x="1150.9" y="943" textLength="54.4" lengthAdjust="spacingAndGlyphs" >18 Apr 14:55</text>
<text class="ax" x="1214.9" y="943" textLength="54.4" lengthAdjust="spacingAndGlyphs" >19 Apr 04:00</text>
<text class="ax" x="1278.9" y="943" textLength="54.4" lengthAdjust="spacingAndGlyphs" >21 Apr 23:30</text>
<text class="ax" x="1342.9" y="943" textLength="54.4" lengthAdjust="spacingAndGlyphs" >22 Apr 14:55</text>
<g shape-rendering="crispEdges">
<rect x="1629" y="30" width="41" height="11" fill="#ff0000" />
<rect x="1629" y="57" width="41" height="11" fill="#ff0000" />
<rect x="1629" y="88" width="41" height="11" fill="#000000" />
<rect x="1629" y="110" width="41" height="10" fill="#32cd32" />
<rect x="1629" y="142" width="41" height="11" fill="#0000ff" />
<rect x="1629" y="169" width="41" height="11" fill="#0000ff" />
</g>
<text class="lbl" x="1632.6" y="39" textLength="33.2" lengthAdjust="spacingAndGlyphs" >22367.6</text>
<text class="lbl" x="1632.6" y="66" textLength="33.2" lengthAdjust="spacingAndGlyphs" >22322.0</text>
<text class="lbl" x="1632.6" y="96" textLength="33.2" lengthAdjust="spacingAndGlyphs" >22272.5</text>
<text class="lbl" x="1632.6" y="118" textLength="33.2" lengthAdjust="spacingAndGlyphs" >22234.3</text>
<text class="lbl" x="1632.6" y="151" textLength="33.2" lengthAdjust="spacingAndGlyphs" >22178.7</text>
<text class="lbl" x="1632.6" y="178" textLength="33.2" lengthAdjust="spacingAndGlyphs" >22133.1</text>
<text class="ax" x="14.3" y="42" textLength="198.5" lengthAdjust="spacingAndGlyphs" >JPN225-,H4&#160; 22222.5 22272.5 22212.5 22272.5</text>
<path d="M2.8 41 L6.5 37.2 L10.2 41 Z" fill="#000"/>
<text class="ax" x="4" y="598" textLength="119" lengthAdjust="spacingAndGlyphs" >MACD(12,26,9) 30.14 30.94</text>
<text class="ax" x="4" y="783" textLength="69" lengthAdjust="spacingAndGlyphs" >RSI(14) 63.8440</text>
<text x="1034" y="105" style="font-family:'Liberation Sans','Noto Serif CJK SC',serif;font-size:32px;fill:#00ff00" filter="url(#sh)"><tspan style="font-weight:600;font-size:31px;letter-spacing:1.3px">多空转折点</tspan><tspan dx="1.6" style="font-weight:bold">22234</tspan></text>
<defs><filter id="sh" x="-5%" y="-20%" width="110%" height="140%"><feDropShadow dx="-1" dy="0.9" stdDeviation="0.25" flood-color="#000" flood-opacity="1"/></filter></defs>
<path d="M1393 31 L1402 31 L1397.5 35.5 Z" fill="#c0c0c0"/>
<defs>
<linearGradient id="gTab" x1="0" y1="0" x2="0" y2="1"><stop offset="0" stop-color="#fb5353"/><stop offset="1" stop-color="#e23333"/></linearGradient>
<linearGradient id="gPan" x1="0" y1="0" x2="0" y2="1"><stop offset="0" stop-color="#e03232"/><stop offset="0.5" stop-color="#c81a1a"/><stop offset="1" stop-color="#b00000"/></linearGradient>
</defs>
<g shape-rendering="crispEdges">
<rect x="1" y="46" width="223" height="71" fill="#fff" />
<rect x="3" y="50" width="52" height="25" fill="#c40000" />
<rect x="4" y="51" width="50" height="24" fill="url(#gTab)" />
<rect x="170" y="50" width="52" height="25" fill="#c40000" />
<rect x="171" y="51" width="50" height="24" fill="url(#gTab)" />
<rect x="3" y="74" width="109" height="40" fill="#c00000" />
<rect x="4" y="75" width="107" height="38" fill="url(#gPan)" />
<rect x="4" y="74" width="50" height="1" fill="#e13434" />
<rect x="114" y="74" width="108" height="40" fill="#c00000" />
<rect x="115" y="75" width="106" height="38" fill="url(#gPan)" />
<rect x="171" y="74" width="50" height="1" fill="#e13434" />
<rect x="4" y="113" width="107" height="1" fill="#b00000" />
<rect x="115" y="113" width="106" height="1" fill="#b00000" />
<rect x="7" y="73" width="44" height="1" fill="#9c0000" />
<rect x="174" y="73" width="44" height="1" fill="#9c0000" />
<rect x="7" y="74" width="44" height="1" fill="#ff7272" />
<rect x="174" y="74" width="44" height="1" fill="#ff7272" />
<rect x="57" y="50" width="111" height="22" fill="#abadb3" />
<rect x="58" y="51" width="109" height="20" fill="#fff" />
<rect x="58" y="51" width="20" height="20" fill="#e9e9e9" />
<rect x="78" y="51" width="1" height="20" fill="#abadb3" />
<rect x="147" y="51" width="20" height="20" fill="#e9e9e9" />
<rect x="146" y="51" width="1" height="20" fill="#abadb3" />
</g>
<path d="M65 59 L71 59 L68 62.5 Z" fill="#000"/><path d="M154 62 L160 62 L157 58.5 Z" fill="#000"/>
<text x="143.5" y="65" text-anchor="end" style="font-size:12px;fill:#000">1.00</text>
<text x="28" y="65.5" text-anchor="middle" style="font-size:10.8px;fill:#fff">SELL</text>
<text x="195" y="65.5" text-anchor="middle" style="font-size:11px;fill:#fff">BUY</text>
<text x="19.5" y="104.5" textLength="33.8" lengthAdjust="spacingAndGlyphs" style="font-size:12px;font-weight:bold;fill:#fff">22271</text>
<text x="129.5" y="104.5" textLength="34" lengthAdjust="spacingAndGlyphs" style="font-size:12px;font-weight:bold;fill:#fff">22294</text>
<text x="56.5" y="105" style="font-size:33px;fill:#fff">.</text><text x="63.5" y="105" style="font-size:33px;fill:#fff">0</text>
<text x="167.3" y="105" style="font-size:33px;fill:#fff">.</text><text x="174.5" y="105" style="font-size:33px;fill:#fff">0</text>
<g id="toolbar">
<g shape-rendering="crispEdges">
<rect x="0" y="0" width="1674" height="26" fill="#f0f0f0" />
<rect x="0" y="0" width="1674" height="1" fill="#fbfbfb" />
<rect x="0" y="26" width="1674" height="1" fill="#a0a0a0" />
<rect x="0" y="27" width="1674" height="1" fill="#696969" />
<rect x="0" y="28" width="1674" height="2" fill="#ffffff" />
<rect x="319" y="3" width="1" height="21" fill="#a0a0a0" />
<rect x="409" y="3" width="1" height="21" fill="#a0a0a0" />
<rect x="471" y="3" width="1" height="21" fill="#a0a0a0" />
<rect x="659" y="3" width="1" height="21" fill="#a0a0a0" />
<rect x="224" y="1" width="1" height="25" fill="#a0a0a0" />
<rect x="225" y="1" width="1" height="25" fill="#ffffff" />
<rect x="592" y="1" width="1" height="25" fill="#a0a0a0" />
<rect x="593" y="1" width="1" height="25" fill="#ffffff" />
<rect x="898" y="1" width="1" height="25" fill="#a0a0a0" />
<rect x="899" y="1" width="1" height="25" fill="#ffffff" />
<rect x="1159" y="1" width="1" height="25" fill="#a0a0a0" />
<rect x="1160" y="1" width="1" height="25" fill="#ffffff" />
<rect x="228" y="4" width="3" height="1" fill="#a8a8a8" />
<rect x="228" y="6" width="3" height="1" fill="#a8a8a8" />
<rect x="228" y="8" width="3" height="1" fill="#a8a8a8" />
<rect x="228" y="10" width="3" height="1" fill="#a8a8a8" />
<rect x="228" y="12" width="3" height="1" fill="#a8a8a8" />
<rect x="228" y="14" width="3" height="1" fill="#a8a8a8" />
<rect x="228" y="16" width="3" height="1" fill="#a8a8a8" />
<rect x="228" y="18" width="3" height="1" fill="#a8a8a8" />
<rect x="228" y="20" width="3" height="1" fill="#a8a8a8" />
<rect x="228" y="22" width="3" height="1" fill="#a8a8a8" />
<rect x="596" y="4" width="3" height="1" fill="#a8a8a8" />
<rect x="596" y="6" width="3" height="1" fill="#a8a8a8" />
<rect x="596" y="8" width="3" height="1" fill="#a8a8a8" />
<rect x="596" y="10" width="3" height="1" fill="#a8a8a8" />
<rect x="596" y="12" width="3" height="1" fill="#a8a8a8" />
<rect x="596" y="14" width="3" height="1" fill="#a8a8a8" />
<rect x="596" y="16" width="3" height="1" fill="#a8a8a8" />
<rect x="596" y="18" width="3" height="1" fill="#a8a8a8" />
<rect x="596" y="20" width="3" height="1" fill="#a8a8a8" />
<rect x="596" y="22" width="3" height="1" fill="#a8a8a8" />
<rect x="902" y="4" width="3" height="1" fill="#a8a8a8" />
<rect x="902" y="6" width="3" height="1" fill="#a8a8a8" />
<rect x="902" y="8" width="3" height="1" fill="#a8a8a8" />
<rect x="902" y="10" width="3" height="1" fill="#a8a8a8" />
<rect x="902" y="12" width="3" height="1" fill="#a8a8a8" />
<rect x="902" y="14" width="3" height="1" fill="#a8a8a8" />
<rect x="902" y="16" width="3" height="1" fill="#a8a8a8" />
<rect x="902" y="18" width="3" height="1" fill="#a8a8a8" />
<rect x="902" y="20" width="3" height="1" fill="#a8a8a8" />
<rect x="902" y="22" width="3" height="1" fill="#a8a8a8" />
<rect x="262" y="2" width="26" height="23" fill="url(#dith)" />
<rect x="262" y="2" width="25" height="1" fill="#a0a0a0" />
<rect x="262" y="2" width="1" height="22" fill="#a0a0a0" />
<rect x="262" y="24" width="26" height="1" fill="#ffffff" />
<rect x="287" y="2" width="1" height="23" fill="#ffffff" />
<rect x="414" y="2" width="26" height="23" fill="url(#dith)" />
<rect x="414" y="2" width="25" height="1" fill="#a0a0a0" />
<rect x="414" y="2" width="1" height="22" fill="#a0a0a0" />
<rect x="414" y="24" width="26" height="1" fill="#ffffff" />
<rect x="439" y="2" width="1" height="23" fill="#ffffff" />
<rect x="442" y="2" width="26" height="23" fill="url(#dith)" />
<rect x="442" y="2" width="25" height="1" fill="#a0a0a0" />
<rect x="442" y="2" width="1" height="22" fill="#a0a0a0" />
<rect x="442" y="24" width="26" height="1" fill="#ffffff" />
<rect x="467" y="2" width="1" height="23" fill="#ffffff" />
<rect x="602" y="2" width="26" height="23" fill="url(#dith)" />
<rect x="602" y="2" width="25" height="1" fill="#a0a0a0" />
<rect x="602" y="2" width="1" height="22" fill="#a0a0a0" />
<rect x="602" y="24" width="26" height="1" fill="#ffffff" />
<rect x="627" y="2" width="1" height="23" fill="#ffffff" />
<rect x="1048" y="2" width="26" height="23" fill="url(#dith)" />
<rect x="1048" y="2" width="25" height="1" fill="#a0a0a0" />
<rect x="1048" y="2" width="1" height="22" fill="#a0a0a0" />
<rect x="1048" y="24" width="26" height="1" fill="#ffffff" />
<rect x="1073" y="2" width="1" height="23" fill="#ffffff" />
</g>
<defs><pattern id="dith" width="2" height="2" patternUnits="userSpaceOnUse"><rect width="2" height="2" fill="#ffffff"/><rect width="1" height="1" fill="#f0f0f0"/><rect x="1" y="1" width="1" height="1" fill="#f0f0f0"/></pattern><linearGradient id="gold" x1="0" y1="0" x2="1" y2="1"><stop offset="0" stop-color="#e8b020"/><stop offset="0.45" stop-color="#ffe458"/><stop offset="1" stop-color="#c88a0c"/></linearGradient><linearGradient id="gplus" x1="0" y1="0" x2="0" y2="1"><stop offset="0" stop-color="#5fe05f"/><stop offset="1" stop-color="#0c9a0c"/></linearGradient><radialGradient id="clk" cx="0.5" cy="0.4" r="0.6"><stop offset="0" stop-color="#5aa5f0"/><stop offset="1" stop-color="#0a4fb0"/></radialGradient></defs>
<path d="M-1 6.5 H7 L9.7 9.2 V18.5 H-1 Z" fill="#fdfdfd" stroke="#9a9a9a" stroke-width="0.9"/>
<path d="M7 6.5 V9.2 H9.7" fill="#e4e4e4" stroke="#9a9a9a" stroke-width="0.7"/>
<path d="M0 9.2 H5.5 M0 12.2 H7.5 M0 15 H3" stroke="#b4b4b4" stroke-width="1.1"/>
<path d="M6.3 12.6 h3.6 v3 h4 v3.4 h-4 v4.2 h-3.6 v-4.2 h-4.1 v-3.4 h4.1 Z" fill="url(#gplus)" stroke="#0e8a0e" stroke-width="0.9"/>
<path d="M7.2 13.6 v3 h-4" fill="none" stroke="#a8f5a8" stroke-width="0.8"/>
<text class="cn" x="16.3" y="17.4">新订单</text>
<path d="M70 7 L80.7 13.5 L80.7 16.3 L72.8 21.8 L65.1 16.6 L65.1 15.2 Z" fill="#a87010"/>
<path d="M70 7 L80.3 13.6 L72.8 19.6 L65.3 15 Z" fill="url(#gold)"/>
<path d="M70.2 8.6 L78.2 13.7 L72.7 18 L67 14.6 Z" fill="#ffe870" opacity="0.55"/>
<path d="M65.3 15.4 L72.8 20.2 L80.5 14.2" fill="none" stroke="#f0d080" stroke-width="0.7"/>
<path d="M96 8 L100.5 6.2 L106 7.6 V16 H96 Z" fill="#2a92f0" stroke="#1a6fd0" stroke-width="0.7"/>
<path d="M96 8 L100.5 6.2 L106 7.6 L101 9.2 Z" fill="#7cc4ff"/>
<path d="M101 9.2 L106 7.6 V16 H101 Z" fill="#5aaef8"/>
<path d="M102 11 L105.2 10.4 V11.6 L102 12.2 Z" fill="#e8f4ff"/>
<path d="M95.6 21.3 a2.9 2.9 0 0 1 0.3 -5.7 a3.6 3.6 0 0 1 6.6 -0.9 a3 3 0 0 1 4.2 2.2 a2.3 2.3 0 0 1 -0.6 4.4 Z" fill="#f2f6fc" stroke="#6a8cc8" stroke-width="0.9"/>
<path d="M95 20.8 H107" stroke="#4a70b8" stroke-width="0.9"/>
<circle cx="128.8" cy="14" r="7.5" fill="#e3e8ed" stroke="#cdd4dc" stroke-width="0.7"/>
<path d="M128.8 14 L128.8 21.5 A7.5 7.5 0 0 0 132.5 7.5 Z" fill="#cfe3cf"/>
<path d="M128.8 20.6 A6.6 6.6 0 0 0 135.2 15.5" fill="none" stroke="#3ea336" stroke-width="2"/>
<path d="M135.2 15.5 A6.6 6.6 0 0 0 132.4 8.5" fill="none" stroke="#9ccc98" stroke-width="1.8"/>
<path d="M125.6 8.4 A6.4 6.4 0 0 0 125.6 19.6" fill="none" stroke="#6a94dc" stroke-width="1" stroke-dasharray="2.4,1"/>
<path d="M127.2 10.4 A3.9 3.9 0 0 0 127.2 17.6" fill="none" stroke="#3a6ed0" stroke-width="1.1"/>
<path d="M130.6 10.6 A3.9 3.9 0 0 1 131.6 16.5" fill="none" stroke="#8ab4d8" stroke-width="0.9"/>
<path d="M129.1 14 V21.4" stroke="#2a9a20" stroke-width="1.3"/>
<circle cx="128.8" cy="13.3" r="1.5" fill="#2a5cd0"/>
<path d="M148.3 12.5 L163 11.6 L158 21.3 L154.5 21 Z" fill="#f7d23c" stroke="#d8a818" stroke-width="0.7"/>
<path d="M149.5 13.2 L156 13.2 L155.3 20" fill="#fff3a0" opacity="0.6"/>
<ellipse cx="156" cy="10.8" rx="7.8" ry="2.7" fill="#4a9cdc" stroke="#2e78b8" stroke-width="0.7"/>
<path d="M151.8 10.4 C151.8 5 160.4 5 160.4 10.4 C158 11.6 154 11.6 151.8 10.4 Z" fill="#62b2e8" stroke="#2e78b8" stroke-width="0.7"/>
<circle cx="160.4" cy="17.7" r="4.1" fill="#e0220e" stroke="#b01408" stroke-width="0.6"/>
<rect x="158.7" y="16" width="3.4" height="3.4" fill="#fff"/>
<text class="cn" x="168.6" y="17.4">自动交易</text>
<g stroke="#505050" stroke-width="1" fill="none"><path d="M242.5 8 V22 M240 19.5 H254"/><path d="M241.2 10 L242.5 8 L243.8 10 M252.2 18.2 L254 19.5 L252.2 20.8"/></g>
<path d="M247 17 H249 V10 H251" fill="none" stroke="#1e8c1e" stroke-width="1.4"/>
<g stroke="#505050" stroke-width="1" fill="none"><path d="M270.5 8 V22 M268 19.5 H282"/><path d="M269.2 10 L270.5 8 L271.8 10 M280.2 18.2 L282 19.5 L280.2 20.8"/></g>
<path d="M276.7 6.5 V18" stroke="#1e8c1e" stroke-width="1.2"/><rect x="274.5" y="8.5" width="4" height="7" fill="#5ae65a" stroke="#0c8c0c" stroke-width="1"/>
<g stroke="#505050" stroke-width="1" fill="none"><path d="M298.5 8 V22 M296 19.5 H310"/><path d="M297.2 10 L298.5 8 L299.8 10 M308.2 18.2 L310 19.5 L308.2 20.8"/></g>
<path d="M297.3 16.8 C299.5 15 301 11.5 303.2 11.4 C305.2 11.4 306.5 14 309 15.2" fill="none" stroke="#2a9a2a" stroke-width="1.1"/>
<path d="M338 16 L343 21" stroke="#c8a020" stroke-width="2.6" stroke-linecap="round"/>
<path d="M338.3 16.3 L342.7 20.7" stroke="#f0d860" stroke-width="1" stroke-linecap="round"/>
<circle cx="334" cy="12" r="5.4" fill="#d4ecff" stroke="#3c8ce0" stroke-width="1.3"/>
<path d="M331 12 H337" stroke="#2868b8" stroke-width="1.6"/>
<path d="M334 9 V15" stroke="#2868b8" stroke-width="1.6"/>
<path d="M366 16 L371 21" stroke="#c8a020" stroke-width="2.6" stroke-linecap="round"/>
<path d="M366.3 16.3 L370.7 20.7" stroke="#f0d860" stroke-width="1" stroke-linecap="round"/>
<circle cx="362" cy="12" r="5.4" fill="#d4ecff" stroke="#3c8ce0" stroke-width="1.3"/>
<path d="M359 12 H365" stroke="#2868b8" stroke-width="1.6"/>
<rect x="384" y="6.5" width="7.6" height="7.2" fill="#3a9a2a" stroke="#2a7a1a" stroke-width="0.6"/>
<rect x="385.2" y="9.5" width="5.2" height="3" fill="#e8f4e8"/>
<rect x="386" y="10.5" width="3.6" height="0.9" fill="#3a9a2a"/>
<rect x="392" y="6.5" width="7.6" height="7.2" fill="#2a5cd0" stroke="#1a3ca0" stroke-width="0.6"/>
<rect x="393.2" y="9.5" width="5.2" height="3" fill="#e8f4e8"/>
<rect x="394" y="10.5" width="3.6" height="0.9" fill="#2a5cd0"/>
<rect x="384" y="14" width="7.6" height="7.2" fill="#2a5cd0" stroke="#1a3ca0" stroke-width="0.6"/>
<rect x="385.2" y="17" width="5.2" height="3" fill="#e8f4e8"/>
<rect x="386" y="18" width="3.6" height="0.9" fill="#2a5cd0"/>
<rect x="392" y="14" width="7.6" height="7.2" fill="#3a9a2a" stroke="#2a7a1a" stroke-width="0.6"/>
<rect x="393.2" y="17" width="5.2" height="3" fill="#e8f4e8"/>
<rect x="394" y="18" width="3.6" height="0.9" fill="#3a9a2a"/>
<g stroke="#505050" stroke-width="1" fill="none"><path d="M422.5 8 V22 M420 19.5 H434"/><path d="M421.2 10 L422.5 8 L423.8 10 M432.2 18.2 L434 19.5 L432.2 20.8"/></g>
<path d="M427.5 10.5 L431 13.5 L427.5 16.5 Z" fill="#c8f0c8" stroke="#1e9c1e" stroke-width="1"/>
<g stroke="#505050" stroke-width="1" fill="none"><path d="M450.5 8 V22 M448 19.5 H462"/><path d="M449.2 10 L450.5 8 L451.8 10 M460.2 18.2 L462 19.5 L460.2 20.8"/></g>
<path d="M456.5 8 V18" stroke="#1c6cb0" stroke-width="1.2"/><path d="M462 13.5 H458 M459.8 11.5 L457.6 13.5 L459.8 15.5" stroke="#d04810" stroke-width="1.1" fill="none"/>
<path d="M481.5 7 H489 L492 10 V19 H481.5 Z" fill="#fff" stroke="#7a7a7a" stroke-width="1"/>
<path d="M484.5 10 V16 M483.5 13 H485.5" stroke="#808080" stroke-width="1"/>
<path d="M489.5 12.2 h3.4 v3.6 h3.8 v3.4 h-3.8 v4.2 h-3.4 v-4.2 h-3.8 v-3.4 h3.8 Z" fill="url(#gplus)" stroke="#0e8a0e" stroke-width="0.9"/><path d="M490.4 13.2 v3.6 h-3.8" fill="none" stroke="#a8f5a8" stroke-width="0.8"/>
<path d="M503 13 H508.4 L505.7 16 Z" fill="#000"/>
<path d="M542 13 H547.4 L544.7 16 Z" fill="#000"/>
<path d="M581 13 H586.4 L583.7 16 Z" fill="#000"/>
<path d="M887 13 H892.4 L889.7 16 Z" fill="#000"/>
<circle cx="527" cy="13.7" r="7.7" fill="url(#clk)" stroke="#0a46a0" stroke-width="0.7"/>
<circle cx="527" cy="13.7" r="5.9" fill="#f6f8fb" stroke="#7fb4ec" stroke-width="0.6"/>
<g stroke="#9a9a9a" stroke-width="0.7"><path d="M527 8.6 V9.6 M527 17.8 V18.8 M521.9 13.7 H522.9 M531.1 13.7 H532.1 M523.6 10.3 L524.2 10.9 M530.4 10.3 L529.8 10.9 M523.6 17.1 L524.2 16.5 M530.4 17.1 L529.8 16.5"/></g>
<path d="M527 10 V13.9 H530.2" stroke="#202020" stroke-width="1.1" fill="none"/>
<rect x="558.5" y="7.5" width="15" height="13" fill="#fff" stroke="#2a6cd0" stroke-width="1.2"/>
<rect x="558.5" y="7.5" width="15" height="2.2" fill="#4a8ee8"/>
<path d="M558.5 14.5 H573.5" stroke="#2a6cd0" stroke-width="0.8"/>
<path d="M560.5 13 L563 12 L565 12.5 L568 11 L571.5 11.5" fill="none" stroke="#b03020" stroke-width="1.1"/>
<path d="M560.5 18 L563 17 L565 18.5 L568 16.5 L571.5 18" fill="none" stroke="#20a030" stroke-width="1.1"/>
<path d="M609.8 6.8 V18.7 L612.6 16.3 L615.2 21 L616.9 20.2 L614.4 15.6 L618.3 15 Z" fill="#404040"/>
<path d="M635 14.5 H641 M644 14.5 H650 M642.5 7 V12.5 M642.5 16.5 V22" stroke="#404040" stroke-width="1.1"/><rect x="642" y="14" width="1" height="1" fill="#404040"/>
<path d="M676.5 8 V21" stroke="#404040" stroke-width="1.2"/>
<path d="M699 14.5 H711" stroke="#404040" stroke-width="1.2"/>
<path d="M726.7 21 L739.2 8.9" stroke="#404040" stroke-width="1.2"/>
<g stroke="#404040" stroke-width="0.9" fill="none"><path d="M753 16 L766 7.5 M754.5 19 L767 10.5 M756 21.5 L767.5 13.5"/><path d="M757.5 12 L758.5 20 M761 10 L762 17.5 M764.5 7 L765.5 15"/></g>
<text x="763.6" y="22.7" style="font-size:6.5px;font-weight:bold;fill:#303030">E</text>
<g stroke="#404040" stroke-width="1" stroke-dasharray="1,1" shape-rendering="crispEdges"><path d="M782 7.5 H795 M782 10.5 H795 M782 14.5 H795 M782 18.5 H790"/></g>
<text x="791.8" y="22.7" style="font-size:6.5px;font-weight:bold;fill:#303030">F</text>
<text x="812.3" y="18.8" style="font-size:12.5px;fill:#404040;font-weight:bold">A</text>
<rect x="839.5" y="8.5" width="11" height="12" fill="none" stroke="#404040" stroke-width="1" stroke-dasharray="1,1" shape-rendering="crispEdges"/>
<text x="841.4" y="18.8" style="font-size:11.5px;fill:#404040;font-weight:bold">T</text>
<path d="M866 11 L869.5 7.5 L873 11 L869.5 12.5 Z" fill="#404040"/><path d="M873 17.5 L876.5 16 L880 17.5 L876.5 21 Z" fill="#404040"/><path d="M868.5 15.5 L870.5 17.5 L875.5 11.5" fill="none" stroke="#404040" stroke-width="1.3"/>
<text class="tf" x="913.3" y="18" textLength="13" lengthAdjust="spacingAndGlyphs">M1</text>
<text class="tf" x="941" y="18" textLength="13.6" lengthAdjust="spacingAndGlyphs">M5</text>
<text class="tf" x="967" y="18" textLength="18.6" lengthAdjust="spacingAndGlyphs">M15</text>
<text class="tf" x="995" y="18" textLength="19" lengthAdjust="spacingAndGlyphs">M30</text>
<text class="tf" x="1026" y="18" textLength="12.2" lengthAdjust="spacingAndGlyphs">H1</text>
<text class="tf" x="1053.5" y="18" textLength="12.9" lengthAdjust="spacingAndGlyphs">H4</text>
<text class="tf" x="1082" y="18" textLength="12.6" lengthAdjust="spacingAndGlyphs">D1</text>
<text class="tf" x="1109.3" y="18" textLength="15.6" lengthAdjust="spacingAndGlyphs">W1</text>
<text class="tf" x="1136" y="18" textLength="15.8" lengthAdjust="spacingAndGlyphs">MN</text>
<path d="M1626.3 14.6 L1622 18.6" stroke="#2458d0" stroke-width="2.4" stroke-linecap="round"/>
<circle cx="1629.5" cy="11.3" r="4.1" fill="#f6f6ff" stroke="#2a62dc" stroke-width="1.3"/>
<defs><linearGradient id="bub" x1="0" y1="0" x2="0" y2="1"><stop offset="0" stop-color="#ffffff"/><stop offset="0.55" stop-color="#f2f2f6"/><stop offset="1" stop-color="#d4d4e0"/></linearGradient></defs>
<path d="M1663.8 15.2 L1665.6 17.4 L1664.9 14.8 Z" fill="#707070" stroke="#707070" stroke-width="0.6"/>
<ellipse cx="1662.2" cy="10.9" rx="6.4" ry="4.6" fill="url(#bub)" stroke="#8e8e8e" stroke-width="0.9"/>
<path d="M1651.8 18.8 L1650.4 20.4 L1653.4 19.2 Z" fill="#707070" stroke="#707070" stroke-width="0.6"/>
<ellipse cx="1653.4" cy="15.3" rx="5.1" ry="3.9" fill="url(#bub)" stroke="#8e8e8e" stroke-width="0.9"/>
</g>
</svg></body></html>
